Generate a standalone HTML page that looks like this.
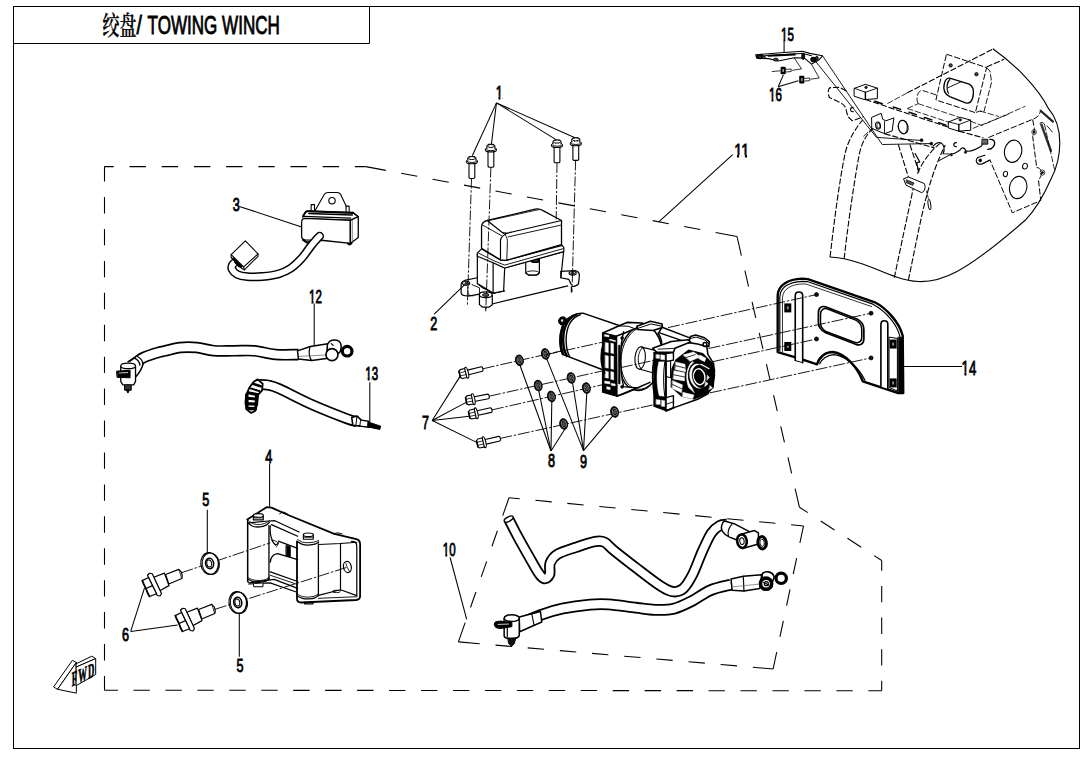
<!DOCTYPE html>
<html lang="zh"><head><meta charset="utf-8"><title>绞盘/ TOWING WINCH</title>
<style>
html,body{margin:0;padding:0;background:#fff;}
body{width:1090px;height:760px;overflow:hidden;}
svg{display:block;}
.lb{font-family:"Liberation Sans",sans-serif;fill:#000;font-weight:normal;stroke:#000;stroke-width:0.75px;vector-effect:non-scaling-stroke;paint-order:stroke;}
.tt{font-family:"Liberation Sans",sans-serif;fill:#000;stroke:#000;stroke-width:0.9px;}
.cj{font-family:"Liberation Serif","Noto Serif CJK SC","Noto Sans CJK SC",serif;fill:#000;font-weight:600;stroke:#000;stroke-width:0.25px;}
.fw{font-family:"Liberation Serif",serif;font-weight:bold;fill:#000;}
</style></head><body>
<svg width="1090" height="760" viewBox="0 0 1090 760">
<rect x="0" y="0" width="1090" height="760" fill="#fff"/>
<rect x="13.5" y="6.5" width="1066" height="742" fill="none" stroke="#000" stroke-width="1"/>
<path d="M13.5 43.5 H369.5 V6.5" fill="none" stroke="#000" stroke-width="1"/>
<text x="102.6" y="34.6" font-size="25.6" textLength="33.8" lengthAdjust="spacingAndGlyphs" class="cj">绞盘</text>
<text x="136.5" y="33.9" font-size="26.2" textLength="5.4" lengthAdjust="spacingAndGlyphs" class="tt">/</text>
<text x="147.6" y="33.9" font-size="26.2" textLength="132.2" lengthAdjust="spacingAndGlyphs" class="tt">TOWING WINCH</text>
<line x1="104.5" y1="166.6" x2="365.8" y2="166.6" stroke="#000" stroke-width="1.08" stroke-dasharray="9.2 15.8 16.4 15.8 16.4 15.8 16.4 15.8 16.4 15.8 16.4 15.8 16.4 15.8 16.4 15.8 11.9 1000"/>
<line x1="365.8" y1="166.6" x2="737" y2="236.5" stroke="#000" stroke-width="1.08" stroke-dasharray="20.35 15.6 16.4 15.6 16.4 15.6 16.4 15.6 16.4 15.6 16.4 15.6 16.4 15.6 16.4 15.6 16.4 15.6 16.4 15.6 16.4 15.6 22.8 1000"/>
<line x1="737" y1="236.5" x2="799.4" y2="507.2" stroke="#000" stroke-width="1.08" stroke-dasharray="19.6 15.54 16.4 15.54 16.4 15.54 16.4 15.54 16.4 15.54 16.4 15.54 16.4 15.54 16.4 15.54 20.1 1000"/>
<line x1="799.4" y1="507.2" x2="881.7" y2="560.5" stroke="#000" stroke-width="1.08" stroke-dasharray="10 15.42 16.4 15.42 16.4 15.42 10 1000"/>
<line x1="881.7" y1="560.5" x2="881.7" y2="690.8" stroke="#000" stroke-width="1.08" stroke-dasharray="10.2 15.22 16.4 15.22 16.4 15.22 16.4 15.22 11 1000"/>
<line x1="104.5" y1="690.2" x2="881.7" y2="690.8" stroke="#000" stroke-width="1.08" stroke-dasharray="13.4 15.55 16.4 15.55 16.4 15.55 16.4 15.55 16.4 15.55 16.4 15.55 16.4 15.55 16.4 15.55 16.4 15.55 16.4 15.55 16.4 15.55 16.4 15.55 16.4 15.55 16.4 15.55 16.4 15.55 16.4 15.55 16.4 15.55 16.4 15.55 16.4 15.55 16.4 15.55 16.4 15.55 16.4 15.55 16.4 15.55 16.4 15.55 14.3 1000"/>
<line x1="104.5" y1="166.6" x2="104.5" y2="690.2" stroke="#000" stroke-width="1.08" stroke-dasharray="14.9 15.53 16.4 15.53 16.4 15.53 16.4 15.53 16.4 15.53 16.4 15.53 16.4 15.53 16.4 15.53 16.4 15.53 16.4 15.53 16.4 15.53 16.4 15.53 16.4 15.53 16.4 15.53 16.4 15.53 16.4 15.53 15.3 1000"/>
<line x1="509" y1="497.8" x2="803.5" y2="526" stroke="#000" stroke-width="1.08" stroke-dasharray="10.8 15.71 16.4 15.71 16.4 15.71 16.4 15.71 16.4 15.71 16.4 15.71 16.4 15.71 16.4 15.71 16.4 15.71 13.5 1000"/>
<line x1="803.5" y1="526" x2="773.1" y2="669" stroke="#000" stroke-width="1.08" stroke-dasharray="17.3 15.6 16.4 15.6 16.4 15.6 16.4 15.6 18.3 1000"/>
<line x1="458.4" y1="641.9" x2="773.1" y2="669" stroke="#000" stroke-width="1.08" stroke-dasharray="21.4 15.88 16.4 15.88 16.4 15.88 16.4 15.88 16.4 15.88 16.4 15.88 16.4 15.88 16.4 15.88 16.4 15.88 21.3 1000"/>
<line x1="509" y1="497.8" x2="458.4" y2="641.9" stroke="#000" stroke-width="1.08" stroke-dasharray="18.9 16.06 16.4 16.06 16.4 16.06 16.4 16.06 21.4 1000"/>
<path d="M315.11 210.53 L324.36 194.24 Q325.53 192.48 328.03 192.48 L337.13 192.48 Q339.48 192.48 340.65 194.39 L348.28 210.53" fill="#fff" stroke="#000" stroke-width="1.1" stroke-linejoin="round" stroke-linecap="round" />
<circle cx="331.99" cy="200.7" r="3.2" fill="none" stroke="#000" stroke-width="1.1"/>
<path d="M311.15 211.12 L311.15 204.66 L314.52 204.66 L314.52 211.12" fill="#fff" stroke="#000" stroke-width="1.1" stroke-linejoin="round" stroke-linecap="round" />
<path d="M346.08 211.56 L346.08 206.13 L349.17 206.13 L349.17 211.56" fill="#fff" stroke="#000" stroke-width="1.1" stroke-linejoin="round" stroke-linecap="round" />
<path d="M302.78 216.7 L307.18 210.83 L352.98 212.59 L358.12 216.7 L350.78 219.93 L303.81 218.46 Z" fill="#fff" stroke="#000" stroke-width="1" stroke-linejoin="round" stroke-linecap="round" />
<path d="M307.18 211.27 L352.98 212.88" fill="none" stroke="#000" stroke-width="2.2" stroke-linejoin="round" stroke-linecap="round" />
<path d="M308.94 213.47 L352.25 214.94" fill="none" stroke="#000" stroke-width="1.6" stroke-linejoin="round" stroke-linecap="round" />
<path d="M303.81 216.4 L350.78 218.17" fill="none" stroke="#000" stroke-width="1.2" stroke-linejoin="round" stroke-linecap="round" />
<path d="M306.01 211.56 L303.07 215.96" fill="none" stroke="#000" stroke-width="2" stroke-linejoin="round" stroke-linecap="round" />
<path d="M352.98 212.59 L358.12 216.7" fill="none" stroke="#000" stroke-width="1.6" stroke-linejoin="round" stroke-linecap="round" />
<path d="M301.61 222.57 Q301.61 218.46 305.28 218.46 L350.34 220.37 L350.34 243.41 L323.62 240.48 L304.83 239.89 Q301.61 239.45 301.61 235.78 Z" fill="#fff" stroke="#000" stroke-width="1.3" stroke-linejoin="round" stroke-linecap="round" />
<path d="M350.34 220.37 L358.27 216.7 L358.27 237.54 L350.34 243.41 Z" fill="#fff" stroke="#000" stroke-width="1.3" stroke-linejoin="round" stroke-linecap="round" />
<path d="M352.25 219.93 L352.25 241.65" fill="none" stroke="#444" stroke-width="0.7" stroke-linejoin="round" stroke-linecap="round" />
<path d="M303.07 239.89 L306.74 242.39 L311.88 241.65" fill="none" stroke="#000" stroke-width="2" stroke-linejoin="round" stroke-linecap="round" />
<path d="M347.84 243.41 L349.31 244.59 L351.51 243.41" fill="none" stroke="#000" stroke-width="2" stroke-linejoin="round" stroke-linecap="round" />
<path d="M319.6 236.2 C319 236.83 317.47 238.33 316 240 C314.53 241.67 313.18 243.15 310.8 246.2 C308.42 249.25 305.07 254.6 301.7 258.3 C298.33 262 294.47 265.8 290.6 268.4 C286.73 271 283.2 272.55 278.5 273.9 C273.8 275.25 267.62 276.03 262.4 276.5 C257.18 276.97 251.42 277.05 247.2 276.7 C242.98 276.35 239.62 275.62 237.1 274.4 C234.58 273.18 232.88 270.98 232.1 269.4 C231.32 267.82 231.75 266.22 232.4 264.9 C233.05 263.58 235.4 262.07 236 261.5" fill="none" stroke="#000" stroke-width="8.8" stroke-linecap="round" stroke-linejoin="round"/>
<path d="M319.6 236.2 C319 236.83 317.47 238.33 316 240 C314.53 241.67 313.18 243.15 310.8 246.2 C308.42 249.25 305.07 254.6 301.7 258.3 C298.33 262 294.47 265.8 290.6 268.4 C286.73 271 283.2 272.55 278.5 273.9 C273.8 275.25 267.62 276.03 262.4 276.5 C257.18 276.97 251.42 277.05 247.2 276.7 C242.98 276.35 239.62 275.62 237.1 274.4 C234.58 273.18 232.88 270.98 232.1 269.4 C231.32 267.82 231.75 266.22 232.4 264.9 C233.05 263.58 235.4 262.07 236 261.5" fill="none" stroke="#fff" stroke-width="5.8" stroke-linecap="round" stroke-linejoin="round"/>
<path d="M245.39 240.92 L258.01 253.83 L258.01 256.33 L244.36 269.83 L242.16 268.81 L231.15 257.5 L231.15 254.57 Z" fill="#fff" stroke="#000" stroke-width="1.1" stroke-linejoin="round" stroke-linecap="round" />
<path d="M231.15 254.57 L243.62 266.9 L258.01 253.83" fill="none" stroke="#000" stroke-width="1.1" stroke-linejoin="round" stroke-linecap="round" />
<path d="M243.62 266.9 L244.36 269.83" fill="none" stroke="#000" stroke-width="1.1" stroke-linejoin="round" stroke-linecap="round" />
<path d="M233.35 258.53 L241.42 266.61" fill="none" stroke="#000" stroke-width="2.2" stroke-linejoin="round" stroke-linecap="round" />
<path d="M234.82 262.2 L239.22 266.61" fill="none" stroke="#000" stroke-width="1.5" stroke-linejoin="round" stroke-linecap="round" />
<path d="M133 365 C133.9 364.28 136.52 362 138.4 360.7 C140.28 359.4 141.03 358.57 144.3 357.2 C147.57 355.83 154.55 353.55 158 352.5 C161.45 351.45 161.27 351.73 165 350.9 C168.73 350.07 175.15 348.07 180.4 347.5 C185.65 346.93 190.93 346.97 196.5 347.5 C202.07 348.03 207.55 350.15 213.8 350.7 C220.05 351.25 227.25 350.78 234 350.8 C240.75 350.82 247.38 350.18 254.3 350.8 C261.22 351.42 268.13 353.87 275.5 354.5 C282.87 355.13 294.67 354.58 298.5 354.6" fill="none" stroke="#000" stroke-width="11.6" stroke-linecap="butt" stroke-linejoin="round"/>
<path d="M133 365 C133.9 364.28 136.52 362 138.4 360.7 C140.28 359.4 141.03 358.57 144.3 357.2 C147.57 355.83 154.55 353.55 158 352.5 C161.45 351.45 161.27 351.73 165 350.9 C168.73 350.07 175.15 348.07 180.4 347.5 C185.65 346.93 190.93 346.97 196.5 347.5 C202.07 348.03 207.55 350.15 213.8 350.7 C220.05 351.25 227.25 350.78 234 350.8 C240.75 350.82 247.38 350.18 254.3 350.8 C261.22 351.42 268.13 353.87 275.5 354.5 C282.87 355.13 294.67 354.58 298.5 354.6" fill="none" stroke="#fff" stroke-width="8.2" stroke-linecap="butt" stroke-linejoin="round"/>
<path d="M297.53 350.91 L310.26 346.57 L327.92 343.68 L326.47 358.44 L311.71 360.46 L298.39 359.02 Z" fill="#fff" stroke="#000" stroke-width="1.5" stroke-linejoin="round" stroke-linecap="round" />
<path d="M309.97 346.86 C308.52 352.36 309.1 356.7 311.42 360.32" fill="none" stroke="#000" stroke-width="1.2" stroke-linejoin="round" stroke-linecap="round" />
<path d="M298.68 356.41 L326.18 354.96" fill="none" stroke="#555" stroke-width="0.7" stroke-linejoin="round" stroke-linecap="round" />
<path d="M327.34 344.83 C329.8 338.61 339.2 338.61 340.94 344.4 C341.52 348.02 340.94 350.91 339.2 353.08 L327.34 353.08 Z" fill="#fff" stroke="#000" stroke-width="1.5" stroke-linejoin="round" stroke-linecap="round" />
<circle cx="331.97" cy="354.67" r="6" fill="#fff" stroke="#000" stroke-width="1.6"/>
<path d="M331.24 343.68 L333.13 345.41" fill="none" stroke="#000" stroke-width="1.2" stroke-linejoin="round" stroke-linecap="round" />
<circle cx="347.16" cy="351.2" r="4.8" fill="#fff" stroke="#000" stroke-width="3.2"/>
<path d="M130.66 363.23 L138.53 357.41 L143.15 363.91 C141.78 369.22 138.79 373.49 135.62 377.09 L130.66 377.09 Z" fill="#fff" stroke="#fff" stroke-width="0.4" stroke-linejoin="round" stroke-linecap="round" />
<path d="M143.15 363.91 C141.78 369.22 138.79 373.49 135.62 377.09" fill="none" stroke="#000" stroke-width="1.6" stroke-linejoin="round" stroke-linecap="round" />
<path d="M134.6 358.1 C137.93 359.81 139.64 362.37 139.9 365.11" fill="none" stroke="#000" stroke-width="1.3" stroke-linejoin="round" stroke-linecap="round" />
<path d="M137.51 356.56 C140.93 358.52 142.64 361.09 142.81 363.91" fill="none" stroke="#000" stroke-width="1.3" stroke-linejoin="round" stroke-linecap="round" />
<path d="M128.1 361.69 L134.6 357.93" fill="none" stroke="#000" stroke-width="1.6" stroke-linejoin="round" stroke-linecap="round" />
<path d="M120.74 366.35 L120.74 381.38 L122.89 384.96 L133.63 384.96 L135.53 381.38 L135.53 366.35 Z" fill="#fff" stroke="#000" stroke-width="1.3" stroke-linejoin="round" stroke-linecap="round" />
<ellipse cx="128.14" cy="365.88" rx="7.4" ry="2.8" fill="#fff" stroke="#000" stroke-width="1.3"/>
<path d="M116.93 371.13 L130.05 370.17 L130.05 377.81 L117.4 377.33 Z" fill="#000" stroke="#000" stroke-width="1" stroke-linejoin="round" stroke-linecap="round" />
<path d="M119.31 373.03 L127.66 372.56" fill="none" stroke="#fff" stroke-width="0.8" stroke-linejoin="round" stroke-linecap="round" />
<path d="M124.56 385.44 L124.56 390.21 L131.24 390.21 L131.24 385.44 Z" fill="#333" stroke="#000" stroke-width="1" stroke-linejoin="round" stroke-linecap="round" />
<path d="M126.47 390.21 L127.9 393.07 L129.33 390.21 Z" fill="#000" stroke="#000" stroke-width="1" stroke-linejoin="round" stroke-linecap="round" />
<path d="M258.85 384.39 C260.36 384.5 264.49 384.31 267.93 385.05 C271.37 385.8 272.2 385.6 279.49 388.85 C286.78 392.1 300.54 399.58 311.69 404.54 C322.84 409.49 338.8 415.71 346.37 418.57 C353.94 421.44 355.31 421.19 357.1 421.71" fill="none" stroke="#000" stroke-width="11" stroke-linecap="butt" stroke-linejoin="round"/>
<path d="M258.85 384.39 C260.36 384.5 264.49 384.31 267.93 385.05 C271.37 385.8 272.2 385.6 279.49 388.85 C286.78 392.1 300.54 399.58 311.69 404.54 C322.84 409.49 338.8 415.71 346.37 418.57 C353.94 421.44 355.31 421.19 357.1 421.71" fill="none" stroke="#fff" stroke-width="7.6" stroke-linecap="butt" stroke-linejoin="round"/>
<path d="M257.61 379.36 L262.71 383.76 L262.02 390.64 L258.16 394.49 L257.2 404.4 L254.86 411.28 L251.01 412.93 L247.16 409.91 L245.5 402.34 L246.19 394.77 L249.63 387.2 L253.76 381.7 Z" fill="#fff" stroke="#000" stroke-width="1.8" stroke-linejoin="round" stroke-linecap="round" />
<path d="M253.07 383.76 L260.64 386.24" fill="none" stroke="#000" stroke-width="2.6" stroke-linejoin="round" stroke-linecap="round" />
<path d="M251.01 388.58 L259.27 390.92" fill="none" stroke="#000" stroke-width="2" stroke-linejoin="round" stroke-linecap="round" />
<path d="M248.26 392.71 L257.61 394.77" fill="none" stroke="#000" stroke-width="3.2" stroke-linejoin="round" stroke-linecap="round" />
<path d="M246.61 398.21 L256.79 399.17" fill="none" stroke="#000" stroke-width="3" stroke-linejoin="round" stroke-linecap="round" />
<path d="M246.19 403.71 L256.51 404.13" fill="none" stroke="#000" stroke-width="3.2" stroke-linejoin="round" stroke-linecap="round" />
<path d="M247.98 408.53 L255.14 408.81" fill="none" stroke="#000" stroke-width="3.4" stroke-linejoin="round" stroke-linecap="round" />
<path d="M246.88 394.77 L246.88 408.53" fill="none" stroke="#000" stroke-width="3.4" stroke-linejoin="round" stroke-linecap="round" />
<path d="M256.24 395.46 L255.41 409.91" fill="none" stroke="#000" stroke-width="2.4" stroke-linejoin="round" stroke-linecap="round" />
<path d="M351.74 417.47 L356.97 416.1 L361.1 419.81 L359.99 426.14 L352.84 425.32 Z" fill="#fff" stroke="#000" stroke-width="1.6" stroke-linejoin="round" stroke-linecap="round" />
<path d="M356.97 416.1 L355.87 425.59" fill="none" stroke="#000" stroke-width="1" stroke-linejoin="round" stroke-linecap="round" />
<path d="M361.1 420.09 L368.66 421.19 L368.66 427.25 L360.27 426.14" fill="#fff" stroke="#000" stroke-width="1.4" stroke-linejoin="round" stroke-linecap="round" />
<path d="M368.25 422.02 L380.64 426.14 L379.81 429.45 L367.98 426.97 Z" fill="#000" stroke="#000" stroke-width="1" stroke-linejoin="round" stroke-linecap="round" />
<path d="M247.27 519.61 L266.6 507.18 L271.44 507.6 L289.39 515.47 L334.28 533.84 L356.38 539.09 Q360.11 540.06 360.11 544.2 L360.11 595.99 Q360.11 599.72 355.97 600 L301.13 602.49 Q296.99 602.49 296.99 598.76 L296.99 541.44" fill="#fff" stroke="#000" stroke-width="1.8" stroke-linejoin="round" stroke-linecap="round" />
<path d="M318.4 544.48 L340.5 543.51 L356.8 542.27" fill="none" stroke="#000" stroke-width="1.2" stroke-linejoin="round" stroke-linecap="round" />
<path d="M351.55 541.44 Q356.8 541.44 356.8 546.27 L356.8 595.3" fill="none" stroke="#000" stroke-width="1.2" stroke-linejoin="round" stroke-linecap="round" />
<path d="M340.5 543.51 L340.5 589.78" fill="none" stroke="#000" stroke-width="1.2" stroke-linejoin="round" stroke-linecap="round" />
<path d="M318.4 595.3 L340.5 589.78 L356.8 595.58" fill="none" stroke="#000" stroke-width="1.2" stroke-linejoin="round" stroke-linecap="round" />
<path d="M318.4 598.34 L357.07 596.69" fill="none" stroke="#000" stroke-width="0.9" stroke-linejoin="round" stroke-linecap="round" />
<ellipse cx="347.4" cy="566.99" rx="3.9" ry="5.6" fill="#fff" stroke="#000" stroke-width="1.2" transform="rotate(-12 347.4 566.99)"/>
<path d="M345.75 562.85 C346.02 563.65 346.71 566.18 347.4 567.68 C348.09 569.18 349.48 571.13 349.89 571.82" fill="none" stroke="#000" stroke-width="0.8" stroke-linejoin="round" stroke-linecap="round" />
<ellipse cx="336.35" cy="591.44" rx="4" ry="1.2" fill="none" stroke="#000" stroke-width="0.9"/>
<path d="M279.72 513.81 C280.3 513.54 281.91 512.15 283.18 512.15 C284.44 512.15 286.63 513.54 287.32 513.81" fill="none" stroke="#000" stroke-width="1" stroke-linejoin="round" stroke-linecap="round" />
<path d="M333.59 533.84 C334.28 533.68 336.31 532.85 337.73 532.87 C339.16 532.9 341.42 533.79 342.15 533.98" fill="none" stroke="#000" stroke-width="1" stroke-linejoin="round" stroke-linecap="round" />
<path d="M248.65 522.79 L268.67 520.99 L274.89 520.72 L299.06 532.04" fill="none" stroke="#000" stroke-width="1.2" stroke-linejoin="round" stroke-linecap="round" />
<path d="M271.44 524.59 L297.68 536.19" fill="none" stroke="#000" stroke-width="1.2" stroke-linejoin="round" stroke-linecap="round" />
<path d="M270.33 525.97 Q269.36 534.53 272.82 541.44 Q275.58 546.96 278.34 542.82" fill="none" stroke="#000" stroke-width="1.2" stroke-linejoin="round" stroke-linecap="round" />
<path d="M278.34 541.16 L297.68 548.34" fill="none" stroke="#000" stroke-width="1.2" stroke-linejoin="round" stroke-linecap="round" />
<path d="M271.44 540.06 L275.58 545.58" fill="none" stroke="#000" stroke-width="0.9" stroke-linejoin="round" stroke-linecap="round" />
<path d="M272.82 540.06 C273.39 540.29 275.4 540.79 276.27 541.44 C277.15 542.08 278.07 543 278.07 543.92 C278.07 544.84 276.57 546.45 276.27 546.96" fill="none" stroke="#000" stroke-width="0.9" stroke-linejoin="round" stroke-linecap="round" />
<path d="M286.35 545.58 L290.22 546.69 L290.22 556.91 L286.35 555.8 Z" fill="#000" stroke="#000" stroke-width="1" stroke-linejoin="round" stroke-linecap="round" />
<path d="M270.33 562.15 Q270.75 554.56 277.65 553.59 L297.68 559.67" fill="none" stroke="#000" stroke-width="1.2" stroke-linejoin="round" stroke-linecap="round" />
<path d="M270.33 571.82 L297.68 581.49" fill="none" stroke="#000" stroke-width="1.2" stroke-linejoin="round" stroke-linecap="round" />
<path d="M270.33 575.28 L297.68 584.53" fill="none" stroke="#000" stroke-width="0.9" stroke-linejoin="round" stroke-linecap="round" />
<path d="M247.96 581.77 L249.34 582.87 L268.67 580.11 L274.2 579.42 L297.68 588.4" fill="none" stroke="#000" stroke-width="1.2" stroke-linejoin="round" stroke-linecap="round" />
<path d="M248.65 583.98 L270.06 582.87 L296.99 592.27" fill="none" stroke="#000" stroke-width="1.2" stroke-linejoin="round" stroke-linecap="round" />
<path d="M247.68 519.61 L247.68 581.49" fill="none" stroke="#000" stroke-width="1.5" stroke-linejoin="round" stroke-linecap="round" />
<path d="M268.95 525.55 L268.95 579.01" fill="none" stroke="#000" stroke-width="1.3" stroke-linejoin="round" stroke-linecap="round" />
<path d="M247.68 522.79 C248.53 523.37 250.79 525.55 252.79 526.24 C254.79 526.93 257.46 527.12 259.7 526.93 C261.93 526.75 264.58 525.9 266.19 525.14 C267.8 524.38 268.84 522.84 269.36 522.38" fill="none" stroke="#000" stroke-width="1.3" stroke-linejoin="round" stroke-linecap="round" />
<path d="M248.65 520.72 C249.45 521.22 251.64 523.11 253.48 523.76 C255.32 524.4 257.58 524.75 259.7 524.59 C261.81 524.42 264.58 523.43 266.19 522.79 C267.8 522.15 268.84 521.06 269.36 520.72" fill="none" stroke="#000" stroke-width="0.9" stroke-linejoin="round" stroke-linecap="round" />
<path d="M247.68 579.01 C248.53 579.42 250.79 580.94 252.79 581.49 C254.79 582.04 257.51 582.37 259.7 582.32 C261.88 582.27 264.3 581.86 265.91 581.22 C267.52 580.57 268.79 578.91 269.36 578.45" fill="none" stroke="#000" stroke-width="1.3" stroke-linejoin="round" stroke-linecap="round" />
<path d="M247.68 577.35 C248.53 577.76 250.79 579.3 252.79 579.83 C254.79 580.36 257.51 580.59 259.7 580.52 C261.88 580.46 264.3 580.04 265.91 579.42 C267.52 578.8 268.79 577.23 269.36 576.8" fill="none" stroke="#000" stroke-width="0.9" stroke-linejoin="round" stroke-linecap="round" />
<path d="M318.4 543.92 L318.4 595.58" fill="none" stroke="#000" stroke-width="1.3" stroke-linejoin="round" stroke-linecap="round" />
<path d="M297.27 541.44 C298.14 541.94 300.6 543.88 302.51 544.48 C304.42 545.07 306.66 545.07 308.73 545.03 C310.8 544.98 313.29 544.68 314.94 544.2 C316.6 543.72 318.05 542.47 318.67 542.13" fill="none" stroke="#000" stroke-width="1.3" stroke-linejoin="round" stroke-linecap="round" />
<path d="M297.68 539.36 C298.49 539.83 300.67 541.57 302.51 542.13 C304.36 542.68 306.66 542.73 308.73 542.68 C310.8 542.63 313.29 542.24 314.94 541.85 C316.6 541.46 318.05 540.58 318.67 540.33" fill="none" stroke="#000" stroke-width="0.9" stroke-linejoin="round" stroke-linecap="round" />
<path d="M297.27 595.99 C298.14 596.39 300.6 597.86 302.51 598.34 C304.42 598.83 306.66 598.99 308.73 598.9 C310.8 598.8 313.29 598.39 314.94 597.79 C316.6 597.19 318.05 595.72 318.67 595.3" fill="none" stroke="#000" stroke-width="1.3" stroke-linejoin="round" stroke-linecap="round" />
<path d="M297.27 594.2 C298.14 594.59 300.6 596.06 302.51 596.55 C304.42 597.03 306.66 597.19 308.73 597.1 C310.8 597.01 313.29 596.57 314.94 595.99 C316.6 595.42 318.05 594.04 318.67 593.65" fill="none" stroke="#000" stroke-width="0.9" stroke-linejoin="round" stroke-linecap="round" />
<path d="M253.34 515.47 L253.34 519.89 L263.29 519.89 L263.29 515.47 Z" fill="#fff" stroke="#000" stroke-width="1.1" stroke-linejoin="round" stroke-linecap="round" />
<ellipse cx="258.31" cy="515.47" rx="5" ry="1.8" fill="#fff" stroke="#000" stroke-width="1.1"/>
<path d="M253.34 517.96 L263.29 517.96" fill="none" stroke="#000" stroke-width="0.8" stroke-linejoin="round" stroke-linecap="round" />
<path d="M303.34 534.81 L303.34 539.23 L313.29 539.23 L313.29 534.81 Z" fill="#fff" stroke="#000" stroke-width="1.1" stroke-linejoin="round" stroke-linecap="round" />
<ellipse cx="308.31" cy="534.81" rx="5" ry="1.8" fill="#fff" stroke="#000" stroke-width="1.1"/>
<path d="M303.34 537.29 L313.29 537.29" fill="none" stroke="#000" stroke-width="0.8" stroke-linejoin="round" stroke-linecap="round" />
<path d="M253.48 583.98 L253.76 586.74 L262.87 586.74 L263.15 583.43" fill="#fff" stroke="#000" stroke-width="1" stroke-linejoin="round" stroke-linecap="round" />
<path d="M304.59 602.49 L304.59 603.87 L312.87 603.87 L312.87 602.49" fill="none" stroke="#000" stroke-width="1.4" stroke-linejoin="round" stroke-linecap="round" />
<line x1="181.5" y1="572.75" x2="270.3" y2="542.8" stroke="#000" stroke-width="0.9" stroke-dasharray="12 1.8 2.4 1.8"/>
<line x1="215" y1="609.3" x2="346.7" y2="567.4" stroke="#000" stroke-width="0.9" stroke-dasharray="12 1.8 2.4 1.8"/>
<path d="M165.62 574.5 L178.75 569.38 L181.25 571.88 L182.25 575.62 L181.88 578.5 L168.75 584 Z" fill="#fff" stroke="#000" stroke-width="1.2" stroke-linejoin="round" stroke-linecap="round" />
<path d="M178.75 569.38 C179 570.1 179.79 572.23 180.25 573.75 C180.71 575.27 181.29 577.71 181.5 578.5" fill="none" stroke="#000" stroke-width="0.8" stroke-linejoin="round" stroke-linecap="round" />
<path d="M153.75 577.25 L164.38 573.12 L169 585.62 L159.75 590.75 Z" fill="#fff" stroke="#000" stroke-width="1.2" stroke-linejoin="round" stroke-linecap="round" />
<path d="M147.5 575.25 L149.5 573.25 L152.25 573.75 L161.5 593.5 L160 596 L157.25 595.5 Z" fill="#fff" stroke="#000" stroke-width="1.2" stroke-linejoin="round" stroke-linecap="round" />
<path d="M142.25 580.62 L148.5 577.5 L156.5 593.75 L149.5 596.5 Z" fill="#fff" stroke="#000" stroke-width="1.2" stroke-linejoin="round" stroke-linecap="round" />
<path d="M146 588.5 L152.5 585.62" fill="none" stroke="#000" stroke-width="1.2" stroke-linejoin="round" stroke-linecap="round" />
<path d="M142.25 580.62 L143.75 584.38 L146 588.5 L147.5 593.12 L149.5 596.5" fill="none" stroke="#000" stroke-width="1.6" stroke-linejoin="round" stroke-linecap="round" />
<path d="M198.62 609.5 L211.75 604.38 L214.25 606.88 L215.25 610.62 L214.88 613.5 L201.75 619 Z" fill="#fff" stroke="#000" stroke-width="1.2" stroke-linejoin="round" stroke-linecap="round" />
<path d="M211.75 604.38 C212 605.1 212.79 607.23 213.25 608.75 C213.71 610.27 214.29 612.71 214.5 613.5" fill="none" stroke="#000" stroke-width="0.8" stroke-linejoin="round" stroke-linecap="round" />
<path d="M186.75 612.25 L197.38 608.12 L202 620.62 L192.75 625.75 Z" fill="#fff" stroke="#000" stroke-width="1.2" stroke-linejoin="round" stroke-linecap="round" />
<path d="M180.5 610.25 L182.5 608.25 L185.25 608.75 L194.5 628.5 L193 631 L190.25 630.5 Z" fill="#fff" stroke="#000" stroke-width="1.2" stroke-linejoin="round" stroke-linecap="round" />
<path d="M175.25 615.62 L181.5 612.5 L189.5 628.75 L182.5 631.5 Z" fill="#fff" stroke="#000" stroke-width="1.2" stroke-linejoin="round" stroke-linecap="round" />
<path d="M179 623.5 L185.5 620.62" fill="none" stroke="#000" stroke-width="1.2" stroke-linejoin="round" stroke-linecap="round" />
<path d="M175.25 615.62 L176.75 619.38 L179 623.5 L180.5 628.12 L182.5 631.5" fill="none" stroke="#000" stroke-width="1.6" stroke-linejoin="round" stroke-linecap="round" />
<ellipse cx="209.62" cy="563.5" rx="8.8" ry="10.9" fill="#fff" stroke="#000" stroke-width="1.3" transform="rotate(-8 209.62 563.5)"/>
<ellipse cx="210.82" cy="563.8" rx="8.6" ry="10.8" fill="none" stroke="#000" stroke-width="1" transform="rotate(-8 210.82 563.8)"/>
<ellipse cx="209.62" cy="563.5" rx="4" ry="5.2" fill="#fff" stroke="#000" stroke-width="1.6" transform="rotate(-8 209.62 563.5)"/>
<ellipse cx="209.22" cy="563.5" rx="2.4" ry="3.6" fill="none" stroke="#000" stroke-width="1" transform="rotate(-8 209.22 563.5)"/>
<ellipse cx="237.75" cy="602.5" rx="8.8" ry="10.9" fill="#fff" stroke="#000" stroke-width="1.3" transform="rotate(-8 237.75 602.5)"/>
<ellipse cx="238.95" cy="602.8" rx="8.6" ry="10.8" fill="none" stroke="#000" stroke-width="1" transform="rotate(-8 238.95 602.8)"/>
<ellipse cx="237.75" cy="602.5" rx="4" ry="5.2" fill="#fff" stroke="#000" stroke-width="1.6" transform="rotate(-8 237.75 602.5)"/>
<ellipse cx="237.35" cy="602.5" rx="2.4" ry="3.6" fill="none" stroke="#000" stroke-width="1" transform="rotate(-8 237.35 602.5)"/>
<path d="M53.82 686.6 L72.39 660.38 L76.33 662.51 L57.77 688.97 Z" fill="#fff" stroke="#000" stroke-width="1" stroke-linejoin="round" stroke-linecap="round" />
<path d="M57.77 688.97 L76.33 662.51 L76.33 692.76 Z" fill="#fff" stroke="#000" stroke-width="1" stroke-linejoin="round" stroke-linecap="round" />
<path d="M76.33 663.7 L91.74 656.19 L95.69 658.56 L76.33 667.01 Z" fill="#fff" stroke="#000" stroke-width="1" stroke-linejoin="round" stroke-linecap="round" />
<path d="M76.33 667.01 L95.69 658.56 L95.69 674.52 L76.33 685.58 Z" fill="#fff" stroke="#000" stroke-width="1" stroke-linejoin="round" stroke-linecap="round" />
<text transform="matrix(0.43 -0.2 0 1 71.83 686.45)" font-size="20.5" class="fw" letter-spacing="2.2" stroke="#000" stroke-width="0.7">FWD</text>
<path d="M469 162.8 L469 177.5 L469.8 178.5 L474 178.5 L474.8 177.5 L474.8 162.8" fill="#fff" stroke="#000" stroke-width="1.1" stroke-linejoin="round" stroke-linecap="round" />
<ellipse cx="471.9" cy="161.7" rx="5.6" ry="2" fill="#fff" stroke="#000" stroke-width="1.1"/>
<ellipse cx="471.9" cy="160.7" rx="5.3" ry="1.8" fill="#fff" stroke="#000" stroke-width="0.9"/>
<path d="M467.9 160.3 L467.9 157.9 L469.5 156.5 L474.3 156.5 L475.9 157.9 L475.9 160.3" fill="#fff" stroke="#000" stroke-width="1.1" stroke-linejoin="round" stroke-linecap="round" />
<ellipse cx="471.9" cy="158.1" rx="3.4" ry="1.5" fill="#fff" stroke="#000" stroke-width="0.9"/>
<line x1="470.5" y1="159.5" x2="470.5" y2="159.9" stroke="#000" stroke-width="0.8" />
<line x1="473.5" y1="159.5" x2="473.5" y2="159.9" stroke="#000" stroke-width="0.8" />
<path d="M488 151 L488 166.2 L488.8 167.2 L493 167.2 L493.8 166.2 L493.8 151" fill="#fff" stroke="#000" stroke-width="1.1" stroke-linejoin="round" stroke-linecap="round" />
<ellipse cx="490.9" cy="149.9" rx="5.6" ry="2" fill="#fff" stroke="#000" stroke-width="1.1"/>
<ellipse cx="490.9" cy="148.9" rx="5.3" ry="1.8" fill="#fff" stroke="#000" stroke-width="0.9"/>
<path d="M486.9 148.5 L486.9 145.8 L488.5 144.4 L493.3 144.4 L494.9 145.8 L494.9 148.5" fill="#fff" stroke="#000" stroke-width="1.1" stroke-linejoin="round" stroke-linecap="round" />
<ellipse cx="490.9" cy="146" rx="3.4" ry="1.5" fill="#fff" stroke="#000" stroke-width="0.9"/>
<line x1="489.5" y1="147.4" x2="489.5" y2="148.1" stroke="#000" stroke-width="0.8" />
<line x1="492.5" y1="147.4" x2="492.5" y2="148.1" stroke="#000" stroke-width="0.8" />
<path d="M554.1 146.5 L554.1 161.8 L554.9 162.8 L559.1 162.8 L559.9 161.8 L559.9 146.5" fill="#fff" stroke="#000" stroke-width="1.1" stroke-linejoin="round" stroke-linecap="round" />
<ellipse cx="557" cy="145.4" rx="5.6" ry="2" fill="#fff" stroke="#000" stroke-width="1.1"/>
<ellipse cx="557" cy="144.4" rx="5.3" ry="1.8" fill="#fff" stroke="#000" stroke-width="0.9"/>
<path d="M553 144 L553 141.4 L554.6 140 L559.4 140 L561 141.4 L561 144" fill="#fff" stroke="#000" stroke-width="1.1" stroke-linejoin="round" stroke-linecap="round" />
<ellipse cx="557" cy="141.6" rx="3.4" ry="1.5" fill="#fff" stroke="#000" stroke-width="0.9"/>
<line x1="555.6" y1="143" x2="555.6" y2="143.6" stroke="#000" stroke-width="0.8" />
<line x1="558.6" y1="143" x2="558.6" y2="143.6" stroke="#000" stroke-width="0.8" />
<path d="M572.9 144.8 L572.9 159.4 L573.7 160.4 L577.9 160.4 L578.7 159.4 L578.7 144.8" fill="#fff" stroke="#000" stroke-width="1.1" stroke-linejoin="round" stroke-linecap="round" />
<ellipse cx="575.8" cy="143.7" rx="5.6" ry="2" fill="#fff" stroke="#000" stroke-width="1.1"/>
<ellipse cx="575.8" cy="142.7" rx="5.3" ry="1.8" fill="#fff" stroke="#000" stroke-width="0.9"/>
<path d="M571.8 142.3 L571.8 139.2 L573.4 137.8 L578.2 137.8 L579.8 139.2 L579.8 142.3" fill="#fff" stroke="#000" stroke-width="1.1" stroke-linejoin="round" stroke-linecap="round" />
<ellipse cx="575.8" cy="139.4" rx="3.4" ry="1.5" fill="#fff" stroke="#000" stroke-width="0.9"/>
<line x1="574.4" y1="140.8" x2="574.4" y2="141.9" stroke="#000" stroke-width="0.8" />
<line x1="577.4" y1="140.8" x2="577.4" y2="141.9" stroke="#000" stroke-width="0.8" />
<path d="M477.34 277.72 L464.71 280.46 Q461.14 281.51 461.14 284.66 L461.14 293.08 Q461.56 296.24 469.97 295.82 L479.44 294.13" fill="#fff" stroke="#000" stroke-width="1.2" stroke-linejoin="round" stroke-linecap="round" />
<ellipse cx="466.19" cy="283.19" rx="3.6" ry="2" fill="#fff" stroke="#000" stroke-width="1.1"/>
<ellipse cx="466.61" cy="283.4" rx="1.8" ry="1" fill="#555" stroke="#000" stroke-width="0.9"/>
<path d="M467.87 286.77 C467.94 288 467.41 292.62 468.29 294.13 C469.17 295.64 472.32 295.53 473.13 295.82" fill="none" stroke="#000" stroke-width="0.9" stroke-linejoin="round" stroke-linecap="round" />
<path d="M477.34 283.61 L482.6 287.82 L493.12 293.08 L503.64 290.98" fill="none" stroke="#000" stroke-width="1.2" stroke-linejoin="round" stroke-linecap="round" />
<path d="M492.07 304.02 L570.96 285.09" fill="none" stroke="#000" stroke-width="1.2" stroke-linejoin="round" stroke-linecap="round" />
<path d="M493.12 293.08 L504.69 290.98" fill="none" stroke="#000" stroke-width="1.2" stroke-linejoin="round" stroke-linecap="round" />
<path d="M479.44 295.18 L479.44 304.65 L482.6 307.18 L488.91 307.18 L492.28 304.65 L492.28 295.18" fill="#fff" stroke="#000" stroke-width="1.2" stroke-linejoin="round" stroke-linecap="round" />
<ellipse cx="485.75" cy="294.76" rx="6.4" ry="2.8" fill="#fff" stroke="#000" stroke-width="1.2"/>
<ellipse cx="485.75" cy="294.97" rx="3.2" ry="1.4" fill="#666" stroke="#000" stroke-width="0.9"/>
<line x1="485.75" y1="307.18" x2="485.75" y2="311.38" stroke="#000" stroke-width="0.9" />
<path d="M472.08 284.66 L479.44 287.82 L479.44 296.24" fill="none" stroke="#000" stroke-width="0.9" stroke-linejoin="round" stroke-linecap="round" />
<path d="M560.86 271.41 L575.17 270.57 Q579.38 271.41 579.38 275.2 L578.54 283.61 Q577.28 286.14 571.38 286.77 L571.38 292.03" fill="#fff" stroke="#000" stroke-width="1.2" stroke-linejoin="round" stroke-linecap="round" />
<path d="M560.86 271.41 L560.86 277.72 L568.86 279.4 L571.38 284.66" fill="none" stroke="#000" stroke-width="1.2" stroke-linejoin="round" stroke-linecap="round" />
<ellipse cx="572.65" cy="273.3" rx="3.6" ry="1.8" fill="#fff" stroke="#000" stroke-width="1.1"/>
<ellipse cx="572.65" cy="273.51" rx="1.8" ry="0.9" fill="#666" stroke="#000" stroke-width="0.9"/>
<path d="M477.34 254.16 L477.34 283.61 L493.12 293.08 L503.64 290.98 L504.69 267.83 L493.12 262.57 Z" fill="#fff" stroke="#000" stroke-width="1.2" stroke-linejoin="round" stroke-linecap="round" />
<path d="M493.12 262.99 L493.12 293.08" fill="none" stroke="#000" stroke-width="1.2" stroke-linejoin="round" stroke-linecap="round" />
<path d="M504.69 267.83 L563.6 251.63 L560.86 277.72" fill="none" stroke="#000" stroke-width="1.2" stroke-linejoin="round" stroke-linecap="round" />
<path d="M525.73 262.57 L525.73 273.09 L528.88 275.2 L536.25 275.2 L539.4 272.67 L539.4 259.42" fill="#fff" stroke="#000" stroke-width="1.2" stroke-linejoin="round" stroke-linecap="round" />
<ellipse cx="532.67" cy="273.09" rx="6.8" ry="2.2" fill="none" stroke="#000" stroke-width="0.9"/>
<ellipse cx="535.2" cy="260.47" rx="4" ry="1.8" fill="#333" stroke="#000" stroke-width="1.6"/>
<path d="M477.34 253.11 L481.55 248.9 L500.48 260.05 L506.16 260.47 L562.13 245.32 L563.81 247.42 L563.81 251.63 L504.69 268.04 L493.12 262.78 L477.34 256.26 Z" fill="#fff" stroke="#000" stroke-width="1.2" stroke-linejoin="round" stroke-linecap="round" />
<path d="M478.81 253.32 L494.17 260.89 L504.69 265.1 L562.97 248.69" fill="none" stroke="#000" stroke-width="0.9" stroke-linejoin="round" stroke-linecap="round" />
<path d="M481.55 248.27 L481.55 226.81 Q481.55 222.18 487.23 220.49 L535.2 209.13 Q538.98 208.29 542.56 210.4 L561.5 220.49 L561.5 244.69 L505.74 260.47 L500.48 259.84 Z" fill="#fff" stroke="#000" stroke-width="1.3" stroke-linejoin="round" stroke-linecap="round" />
<path d="M487.23 220.49 L502.59 232.7 Q505.74 233.54 511 232.28 Q501.53 234.17 500.48 240.48 L500.48 259.42" fill="none" stroke="#000" stroke-width="1.2" stroke-linejoin="round" stroke-linecap="round" />
<path d="M511 232.28 L561.5 220.49" fill="none" stroke="#000" stroke-width="1.2" stroke-linejoin="round" stroke-linecap="round" />
<path d="M502.59 232.7 Q507.42 235.64 507.42 241.53 L506.79 260.05" fill="none" stroke="#000" stroke-width="0.9" stroke-linejoin="round" stroke-linecap="round" />
<path d="M482.6 225.12 L501.53 235.64" fill="none" stroke="#000" stroke-width="0.9" stroke-linejoin="round" stroke-linecap="round" />
<path d="M508.27 236.91 L560.86 225.12" fill="none" stroke="#000" stroke-width="0.9" stroke-linejoin="round" stroke-linecap="round" />
<path d="M489.33 220.49 L539.4 209.55" fill="none" stroke="#000" stroke-width="0.8" stroke-linejoin="round" stroke-linecap="round" />
<line x1="471.5" y1="178.5" x2="467.4" y2="304.7" stroke="#000" stroke-width="0.9" stroke-dasharray="10 1.8 2.4 1.8"/>
<line x1="490.9" y1="167.5" x2="485.8" y2="311" stroke="#000" stroke-width="0.9" stroke-dasharray="10 1.8 2.4 1.8"/>
<line x1="557" y1="163" x2="556.2" y2="219.4" stroke="#000" stroke-width="0.9" stroke-dasharray="10 1.8 2.4 1.8"/>
<line x1="575.6" y1="160.5" x2="572" y2="292" stroke="#000" stroke-width="0.9" stroke-dasharray="10 1.8 2.4 1.8"/>
<line x1="482.8" y1="368.8" x2="602" y2="341.6" stroke="#000" stroke-width="0.9" stroke-dasharray="12 1.8 2.4 1.8"/>
<line x1="489.1" y1="396.2" x2="604" y2="370.6" stroke="#000" stroke-width="0.9" stroke-dasharray="12 1.8 2.4 1.8"/>
<line x1="491.9" y1="409.9" x2="604" y2="384.4" stroke="#000" stroke-width="0.9" stroke-dasharray="12 1.8 2.4 1.8"/>
<line x1="500.3" y1="438.4" x2="655" y2="404.5" stroke="#000" stroke-width="0.9" stroke-dasharray="12 1.8 2.4 1.8"/>
<path d="M466.53 370.37 L481.27 366.76 L482.44 367.34 L483.16 370.26 L482.39 371.32 L467.64 374.93 Z" fill="#fff" stroke="#000" stroke-width="1.1" stroke-linejoin="round" stroke-linecap="round" />
<ellipse cx="466.7" cy="372.74" rx="1.6" ry="5.6" fill="#fff" stroke="#000" stroke-width="1.1" transform="rotate(-13.76 466.7 372.74)"/>
<path d="M458.94 371.35 L460.16 369.61 L464.63 368.51 L466.82 377.45 L462.35 378.54 L460.46 377.56 Z" fill="#fff" stroke="#000" stroke-width="1.1" stroke-linejoin="round" stroke-linecap="round" />
<path d="M459.37 373.1 L465.34 371.43" fill="none" stroke="#000" stroke-width="0.8" stroke-linejoin="round" stroke-linecap="round" />
<path d="M460.08 376.01 L466.11 374.54" fill="none" stroke="#000" stroke-width="0.8" stroke-linejoin="round" stroke-linecap="round" />
<path d="M458.94 371.35 L460.46 377.56" fill="none" stroke="#000" stroke-width="1.5" stroke-linejoin="round" stroke-linecap="round" />
<path d="M473.17 396.92 L487.67 394.09 L488.81 394.73 L489.39 397.67 L488.57 398.7 L474.08 401.54 Z" fill="#fff" stroke="#000" stroke-width="1.1" stroke-linejoin="round" stroke-linecap="round" />
<ellipse cx="473.23" cy="399.31" rx="1.6" ry="5.6" fill="#fff" stroke="#000" stroke-width="1.1" transform="rotate(-11.08 473.23 399.31)"/>
<path d="M465.55 397.55 L466.85 395.87 L471.37 394.99 L473.14 404.01 L468.62 404.9 L466.78 403.83 Z" fill="#fff" stroke="#000" stroke-width="1.1" stroke-linejoin="round" stroke-linecap="round" />
<path d="M465.9 399.32 L471.94 397.93" fill="none" stroke="#000" stroke-width="0.8" stroke-linejoin="round" stroke-linecap="round" />
<path d="M466.47 402.26 L472.56 401.07" fill="none" stroke="#000" stroke-width="0.8" stroke-linejoin="round" stroke-linecap="round" />
<path d="M465.55 397.55 L466.78 403.83" fill="none" stroke="#000" stroke-width="1.5" stroke-linejoin="round" stroke-linecap="round" />
<path d="M476.11 410.95 L490.42 407.82 L491.58 408.43 L492.22 411.37 L491.43 412.41 L477.11 415.54 Z" fill="#fff" stroke="#000" stroke-width="1.1" stroke-linejoin="round" stroke-linecap="round" />
<ellipse cx="476.22" cy="413.33" rx="1.6" ry="5.6" fill="#fff" stroke="#000" stroke-width="1.1" transform="rotate(-12.34 476.22 413.33)"/>
<path d="M468.5 411.74 L469.76 410.03 L474.26 409.05 L476.22 418.04 L471.73 419.02 L469.87 418 Z" fill="#fff" stroke="#000" stroke-width="1.1" stroke-linejoin="round" stroke-linecap="round" />
<path d="M468.88 413.5 L474.9 411.98" fill="none" stroke="#000" stroke-width="0.8" stroke-linejoin="round" stroke-linecap="round" />
<path d="M469.53 416.43 L475.58 415.11" fill="none" stroke="#000" stroke-width="0.8" stroke-linejoin="round" stroke-linecap="round" />
<path d="M468.5 411.74 L469.87 418" fill="none" stroke="#000" stroke-width="1.5" stroke-linejoin="round" stroke-linecap="round" />
<path d="M484.06 439.8 L498.79 436.34 L499.96 436.94 L500.64 439.86 L499.86 440.92 L485.13 444.37 Z" fill="#fff" stroke="#000" stroke-width="1.1" stroke-linejoin="round" stroke-linecap="round" />
<ellipse cx="484.2" cy="442.18" rx="1.6" ry="5.6" fill="#fff" stroke="#000" stroke-width="1.1" transform="rotate(-13.21 484.2 442.18)"/>
<path d="M476.46 440.71 L477.7 438.98 L482.18 437.93 L484.28 446.88 L479.8 447.94 L477.93 446.94 Z" fill="#fff" stroke="#000" stroke-width="1.1" stroke-linejoin="round" stroke-linecap="round" />
<path d="M476.88 442.46 L482.87 440.85" fill="none" stroke="#000" stroke-width="0.8" stroke-linejoin="round" stroke-linecap="round" />
<path d="M477.56 445.38 L483.6 443.96" fill="none" stroke="#000" stroke-width="0.8" stroke-linejoin="round" stroke-linecap="round" />
<path d="M476.46 440.71 L477.93 446.94" fill="none" stroke="#000" stroke-width="1.5" stroke-linejoin="round" stroke-linecap="round" />
<ellipse cx="519.4" cy="360.3" rx="3.9" ry="5.3" fill="#000" stroke="#000" stroke-width="1" transform="rotate(-12 519.4 360.3)"/>
<ellipse cx="519.6" cy="360.3" rx="2.5" ry="3.6" fill="#000" stroke="#999" stroke-width="0.8" transform="rotate(-12 519.6 360.3)"/>
<ellipse cx="519.6" cy="360.3" rx="1.1" ry="1.8" fill="#333" stroke="#777" stroke-width="0.7" transform="rotate(-12 519.6 360.3)"/>
<ellipse cx="538.2" cy="385.6" rx="3.9" ry="5.3" fill="#000" stroke="#000" stroke-width="1" transform="rotate(-12 538.2 385.6)"/>
<ellipse cx="538.4" cy="385.6" rx="2.5" ry="3.6" fill="#000" stroke="#999" stroke-width="0.8" transform="rotate(-12 538.4 385.6)"/>
<ellipse cx="538.4" cy="385.6" rx="1.1" ry="1.8" fill="#333" stroke="#777" stroke-width="0.7" transform="rotate(-12 538.4 385.6)"/>
<ellipse cx="551.4" cy="396.5" rx="3.9" ry="5.3" fill="#000" stroke="#000" stroke-width="1" transform="rotate(-12 551.4 396.5)"/>
<ellipse cx="551.6" cy="396.5" rx="2.5" ry="3.6" fill="#000" stroke="#999" stroke-width="0.8" transform="rotate(-12 551.6 396.5)"/>
<ellipse cx="551.6" cy="396.5" rx="1.1" ry="1.8" fill="#333" stroke="#777" stroke-width="0.7" transform="rotate(-12 551.6 396.5)"/>
<ellipse cx="563.7" cy="424" rx="3.9" ry="5.3" fill="#000" stroke="#000" stroke-width="1" transform="rotate(-12 563.7 424)"/>
<ellipse cx="563.9" cy="424" rx="2.5" ry="3.6" fill="#000" stroke="#999" stroke-width="0.8" transform="rotate(-12 563.9 424)"/>
<ellipse cx="563.9" cy="424" rx="1.1" ry="1.8" fill="#333" stroke="#777" stroke-width="0.7" transform="rotate(-12 563.9 424)"/>
<ellipse cx="545.4" cy="354" rx="3.9" ry="5.3" fill="#000" stroke="#000" stroke-width="1" transform="rotate(-12 545.4 354)"/>
<ellipse cx="545.6" cy="354" rx="2.5" ry="3.6" fill="#000" stroke="#999" stroke-width="0.8" transform="rotate(-12 545.6 354)"/>
<ellipse cx="545.6" cy="354" rx="1.1" ry="1.8" fill="#333" stroke="#777" stroke-width="0.7" transform="rotate(-12 545.6 354)"/>
<ellipse cx="571.2" cy="377.9" rx="3.9" ry="5.3" fill="#000" stroke="#000" stroke-width="1" transform="rotate(-12 571.2 377.9)"/>
<ellipse cx="571.4" cy="377.9" rx="2.5" ry="3.6" fill="#000" stroke="#999" stroke-width="0.8" transform="rotate(-12 571.4 377.9)"/>
<ellipse cx="571.4" cy="377.9" rx="1.1" ry="1.8" fill="#333" stroke="#777" stroke-width="0.7" transform="rotate(-12 571.4 377.9)"/>
<ellipse cx="586.4" cy="388.1" rx="3.9" ry="5.3" fill="#000" stroke="#000" stroke-width="1" transform="rotate(-12 586.4 388.1)"/>
<ellipse cx="586.6" cy="388.1" rx="2.5" ry="3.6" fill="#000" stroke="#999" stroke-width="0.8" transform="rotate(-12 586.6 388.1)"/>
<ellipse cx="586.6" cy="388.1" rx="1.1" ry="1.8" fill="#333" stroke="#777" stroke-width="0.7" transform="rotate(-12 586.6 388.1)"/>
<ellipse cx="614.6" cy="412" rx="3.9" ry="5.3" fill="#000" stroke="#000" stroke-width="1" transform="rotate(-12 614.6 412)"/>
<ellipse cx="614.8" cy="412" rx="2.5" ry="3.6" fill="#000" stroke="#999" stroke-width="0.8" transform="rotate(-12 614.8 412)"/>
<ellipse cx="614.8" cy="412" rx="1.1" ry="1.8" fill="#333" stroke="#777" stroke-width="0.7" transform="rotate(-12 614.8 412)"/>
<path d="M993.16 48.95 C1014.21 63.68 1037.89 87.37 1048.42 108.42 C1064.51 127.37 1061.62 157.78 1051.48 178.05 C1045.69 191.08 1035.56 209.9 1025.42 220.03 C963.21 274.4 940.83 282.23 918.46 281.56 C896.08 279.99 875.94 267.68 860.28 263.21 C849.09 259.18 840.14 257.61 830.07 256.94" fill="none" stroke="#000" stroke-width="1.1" stroke-linejoin="round" stroke-linecap="round" />
<path d="M830.07 256.94 C833.43 227.41 839.02 182.65 845.06 153.56 C847.97 141.26 853.56 131.19 862.52 120" fill="none" stroke="#000" stroke-width="1.1" stroke-linejoin="round" stroke-dasharray="6.2 1.9" stroke-linecap="butt"/>
<path d="M844.17 258.73 C847.3 229.64 853.56 184.89 859.38 153.56 C862.52 140.14 868.11 132.31 874.82 126.71" fill="none" stroke="#000" stroke-width="1.1" stroke-linejoin="round" stroke-dasharray="6.2 1.9" stroke-linecap="butt"/>
<path d="M894.29 277.75 L903.24 235.24 L913.53 187.13" fill="none" stroke="#000" stroke-width="1.1" stroke-linejoin="round" stroke-dasharray="6.2 1.9" stroke-linecap="butt"/>
<path d="M917.56 173.7 C921.81 162.52 930.76 150.21 941.95 141.93" fill="none" stroke="#000" stroke-width="1.1" stroke-linejoin="round" stroke-dasharray="6.2 1.9" stroke-linecap="butt"/>
<path d="M908.39 280.21 L916.67 239.71 C922.93 209.51 929.64 175.94 945.31 145.06" fill="none" stroke="#000" stroke-width="1.1" stroke-linejoin="round" stroke-dasharray="6.2 1.9" stroke-linecap="butt"/>
<path d="M898.32 144.61 L908.39 177.06" fill="none" stroke="#000" stroke-width="1.1" stroke-linejoin="round" stroke-dasharray="6.2 1.9" stroke-linecap="butt"/>
<path d="M909.95 144.61 L918.9 171.91" fill="none" stroke="#000" stroke-width="1.1" stroke-linejoin="round" stroke-dasharray="6.2 1.9" stroke-linecap="butt"/>
<path d="M903.91 178.63 L908.61 177.06 L924.27 183.55 C926.06 187.13 924.72 191.16 921.81 192.72 L906.37 185.34 Z" fill="#fff" stroke="#000" stroke-width="1" stroke-linejoin="round" stroke-linecap="round" />
<path d="M906.82 179.97 L913.98 183.1 L912.64 185.34 L906.37 182.65 Z" fill="#555" stroke="#000" stroke-width="0.8" stroke-linejoin="round" stroke-linecap="round" />
<ellipse cx="929.42" cy="204.58" rx="1.3" ry="5" fill="#fff" stroke="#000" stroke-width="1" transform="rotate(-8 929.42 204.58)"/>
<path d="M928.3 198.32 L926.51 191.16" fill="none" stroke="#000" stroke-width="0.8" stroke-linejoin="round" stroke-linecap="round" />
<path d="M915.1 153.56 L919.8 162.07 L916.67 162.52 L918.68 171.91" fill="none" stroke="#000" stroke-width="1.2" stroke-linejoin="round" stroke-linecap="round" />
<path d="M846.32 91.05 L839.74 87.37 L830.53 87.63 C827.89 88.29 827.63 92.89 829.47 97.5 L838.42 101.84 C843.03 103.42 845.66 106.05 846.32 110.66 L847.89 116.58 L852.37 120.79 L863.42 116.84" fill="none" stroke="#000" stroke-width="1.1" stroke-linejoin="round" stroke-dasharray="6.2 1.9" stroke-linecap="butt"/>
<path d="M863.42 136.32 L872.11 128.42" fill="none" stroke="#000" stroke-width="0.8" stroke-linejoin="round" stroke-dasharray="6.2 1.9" stroke-linecap="butt"/>
<path d="M853.16 107.37 C849.61 107.37 849.61 111.97 853.16 111.58" fill="none" stroke="#000" stroke-width="1.1" stroke-linejoin="round" stroke-linecap="round" />
<path d="M854.47 88.29 L865.39 84.34 L877.37 88.16 L877.37 98.68 L865.39 99.47 L864.08 99.47 L854.47 96.32 Z" fill="#fff" stroke="#000" stroke-width="1" stroke-linejoin="round" stroke-linecap="round" />
<path d="M854.47 88.29 L865.39 92.24 L877.37 88.16" fill="none" stroke="#000" stroke-width="0.9" stroke-linejoin="round" stroke-linecap="round" />
<path d="M865.39 92.24 L865.39 99.47" fill="none" stroke="#000" stroke-width="1.4" stroke-linejoin="round" stroke-linecap="round" />
<circle cx="866.05" cy="87.37" r="1.2" fill="#333" stroke="#000" stroke-width="0.8"/>
<path d="M865.39 99.47 L948.95 127.37" fill="none" stroke="#000" stroke-width="1.1" stroke-linejoin="round" stroke-dasharray="6.2 1.9" stroke-linecap="butt"/>
<path d="M874.87 101.32 L882.24 103.68" fill="none" stroke="#000" stroke-width="1.5" stroke-linejoin="round" stroke-linecap="round" />
<path d="M893.29 106.97 L900.66 109.34" fill="none" stroke="#000" stroke-width="1.5" stroke-linejoin="round" stroke-linecap="round" />
<path d="M909.08 112.24 L916.45 114.61" fill="none" stroke="#000" stroke-width="1.5" stroke-linejoin="round" stroke-linecap="round" />
<path d="M924.47 117.5 L931.84 119.87" fill="none" stroke="#000" stroke-width="1.5" stroke-linejoin="round" stroke-linecap="round" />
<path d="M938.68 122.76 L946.05 125.13" fill="none" stroke="#000" stroke-width="1.5" stroke-linejoin="round" stroke-linecap="round" />
<path d="M871.97 117.24 L881.18 113.29 L882.63 119.21 L885.79 120.79 L893.95 117.89 L892.11 131.05 L884.47 133.68 L872.11 128.42 Z" fill="#fff" stroke="#000" stroke-width="1" stroke-linejoin="round" stroke-linecap="round" />
<path d="M884.47 121.58 L884.47 133.42" fill="none" stroke="#000" stroke-width="0.9" stroke-linejoin="round" stroke-linecap="round" />
<ellipse cx="878.03" cy="125.53" rx="2.4" ry="3.6" fill="#fff" stroke="#000" stroke-width="1.1" transform="rotate(-10 878.03 125.53)"/>
<ellipse cx="878.42" cy="125.53" rx="1.5" ry="2.6" fill="none" stroke="#000" stroke-width="0.7" transform="rotate(-10 878.42 125.53)"/>
<ellipse cx="903.16" cy="127.11" rx="4.8" ry="6.8" fill="#fff" stroke="#000" stroke-width="1.2" transform="rotate(-12 903.16 127.11)"/>
<path d="M905.53 121.18 C907.89 124.47 907.89 129.74 905.26 133.03" fill="none" stroke="#000" stroke-width="0.8" stroke-linejoin="round" stroke-linecap="round" />
<path d="M884.47 133.68 L934.47 147.89" fill="none" stroke="#000" stroke-width="1.1" stroke-linejoin="round" stroke-dasharray="6.2 1.9" stroke-linecap="butt"/>
<circle cx="921.58" cy="140.26" r="1.4" fill="#000" stroke="#000" stroke-width="0.8"/>
<circle cx="931.32" cy="143.68" r="1.4" fill="#000" stroke="#000" stroke-width="0.8"/>
<path d="M933.03 146.24 C935.23 143.49 937.98 141.84 940.74 142.72 C944.04 144.04 945.14 149.54 943.16 153.73 L951.75 153.95 C955.05 153.73 957.25 151.75 960 150.09 C961.1 147.34 964.41 146.79 965.84 150.86 C970.46 152.3 975.97 149.54 981.47 146.02 L982.57 143.49" fill="none" stroke="#000" stroke-width="1.1" stroke-linejoin="round" stroke-linecap="round" />
<path d="M939.08 160.55 L951.75 153.95" fill="none" stroke="#000" stroke-width="1" stroke-linejoin="round" stroke-linecap="round" />
<path d="M956.37 142.72 C952.85 142.28 952.85 146.9 956.37 146.68" fill="none" stroke="#000" stroke-width="1.2" stroke-linejoin="round" stroke-linecap="round" />
<circle cx="965.51" cy="152.3" r="1.1" fill="#000" stroke="#000" stroke-width="0.8"/>
<circle cx="951.52" cy="155.05" r="0.9" fill="#000" stroke="#000" stroke-width="0.6"/>
<path d="M982.28 139.25 L987.78 139.25 L987.78 144.17 L982.28 144.17 Z" fill="#666" stroke="#000" stroke-width="0.9" stroke-linejoin="round" stroke-linecap="round" />
<path d="M989.95 139.39 C995.74 138.96 996.17 145.47 990.96 148.8 L987.78 149.38" fill="none" stroke="#000" stroke-width="1.4" stroke-linejoin="round" stroke-linecap="round" />
<path d="M948.69 121.87 L960.27 117.24 L970.69 120.13 L970.69 130.27 L958.82 131.14 L948.69 128.1 Z" fill="#fff" stroke="#000" stroke-width="1" stroke-linejoin="round" stroke-linecap="round" />
<path d="M948.69 121.87 L958.82 124.48 L970.69 120.13" fill="none" stroke="#000" stroke-width="0.9" stroke-linejoin="round" stroke-linecap="round" />
<path d="M958.82 124.48 L958.82 131.14" fill="none" stroke="#000" stroke-width="1.4" stroke-linejoin="round" stroke-linecap="round" />
<circle cx="960.27" cy="119.85" r="1.2" fill="#333" stroke="#000" stroke-width="0.8"/>
<path d="M958.82 131.14 L983.43 137.8" fill="none" stroke="#000" stroke-width="1.1" stroke-linejoin="round" stroke-dasharray="6.2 1.9" stroke-linecap="butt"/>
<path d="M907.25 92.86 L993.16 48.95" fill="none" stroke="#000" stroke-width="1.1" stroke-linejoin="round" stroke-dasharray="6.2 1.9" stroke-linecap="butt"/>
<path d="M986.58 66.97 L1004.34 59.08" fill="none" stroke="#000" stroke-width="1.1" stroke-linejoin="round" stroke-dasharray="6.2 1.9" stroke-linecap="butt"/>
<path d="M907.25 108.53 L948.35 122.02" fill="none" stroke="#000" stroke-width="0.8" stroke-linejoin="round" stroke-dasharray="6.2 1.9" stroke-linecap="butt"/>
<path d="M907.25 108.53 L918.16 103.65" fill="none" stroke="#000" stroke-width="0.8" stroke-linejoin="round" stroke-dasharray="6.2 1.9" stroke-linecap="butt"/>
<path d="M918.16 103.65 L959.9 117.52" fill="none" stroke="#000" stroke-width="0.8" stroke-linejoin="round" stroke-dasharray="6.2 1.9" stroke-linecap="butt"/>
<path d="M918.16 103.65 C915.98 99.54 916.88 91.19 922.02 90.29 L936.79 95.17" fill="none" stroke="#000" stroke-width="0.9" stroke-linejoin="round" stroke-dasharray="6.2 1.9" stroke-linecap="butt"/>
<path d="M970.18 121.12 L981.74 125.48 L1025.41 106.22" fill="none" stroke="#000" stroke-width="0.8" stroke-linejoin="round" stroke-dasharray="6.2 1.9" stroke-linecap="butt"/>
<path d="M972.75 128.44 L1009.99 113.67" fill="none" stroke="#000" stroke-width="0.8" stroke-linejoin="round" stroke-dasharray="6.2 1.9" stroke-linecap="butt"/>
<path d="M887.34 103.65 L907.25 92.86" fill="none" stroke="#000" stroke-width="0.8" stroke-linejoin="round" stroke-dasharray="6.2 1.9" stroke-linecap="butt"/>
<path d="M946.45 54.21 L986.58 67.63 L975.39 112.63 L935.92 100 Z" fill="none" stroke="#000" stroke-width="1" stroke-linejoin="round" stroke-dasharray="6.2 1.9" stroke-linecap="butt"/>
<path d="M986.58 67.63 L990 71.05 L991.58 82.11 L983.95 111.71 L980 111.05 L975.39 112.63" fill="none" stroke="#000" stroke-width="0.9" stroke-linejoin="round" stroke-dasharray="6.2 1.9" stroke-linecap="butt"/>
<path d="M980 111.05 L999.08 116.58" fill="none" stroke="#000" stroke-width="0.8" stroke-linejoin="round" stroke-dasharray="6.2 1.9" stroke-linecap="butt"/>
<circle cx="950.66" cy="65.39" r="1.7" fill="#444" stroke="#000" stroke-width="0.8"/>
<circle cx="976.45" cy="74.21" r="1.7" fill="#444" stroke="#000" stroke-width="0.8"/>
<path d="M949.74 78.16 L969.21 84.08 C972.76 86.05 974.08 90 973.16 95.26 C972.37 101.84 969.47 103.82 965.53 102.89 L949.74 96.58 C944.47 93.95 943.16 88.68 944.21 84.08 C945.13 79.47 947.11 77.89 949.74 78.16 Z" fill="#fff" stroke="#000" stroke-width="1.4" stroke-linejoin="round" stroke-linecap="round" />
<path d="M949.74 79.47 C946.84 82.11 946.05 88.68 948.42 93.29" fill="none" stroke="#000" stroke-width="1.2" stroke-linejoin="round" stroke-linecap="round" />
<path d="M948.16 87.63 L961.58 81.58" fill="none" stroke="#000" stroke-width="0.9" stroke-linejoin="round" stroke-linecap="round" />
<path d="M988.5 137.51 L1034.83 118.4 C1038.45 116.52 1039.9 113.62 1040.62 110.72" fill="none" stroke="#000" stroke-width="1" stroke-linejoin="round" stroke-dasharray="6.2 1.9" stroke-linecap="butt"/>
<path d="M1032.66 119.56 L1034.4 128.82 L1032.66 136.35 L1036.71 167.62 C1041.35 167.19 1042.79 173.7 1039.9 178.05 L1038.45 179.78 L1040.77 200.49 L1012.39 212.79 L989.95 160.09 L982.28 163.86" fill="none" stroke="#000" stroke-width="1" stroke-linejoin="round" stroke-dasharray="6.2 1.9" stroke-linecap="butt"/>
<path d="M989.95 160.09 L982.28 163.86 C976.2 165.74 974.02 158.5 979.09 157.05 L984.88 155.17" fill="none" stroke="#000" stroke-width="1.1" stroke-linejoin="round" stroke-linecap="round" />
<circle cx="980.25" cy="160.38" r="1.4" fill="#000" stroke="#000" stroke-width="0.8"/>
<ellipse cx="1013.11" cy="151.26" rx="8.6" ry="11.2" fill="none" stroke="#000" stroke-width="1.1" transform="rotate(12 1013.11 151.26)"/>
<ellipse cx="1018.18" cy="187.46" rx="8.6" ry="11.2" fill="none" stroke="#000" stroke-width="1.1" transform="rotate(12 1018.18 187.46)"/>
<ellipse cx="1024.99" cy="166.17" rx="2.4" ry="2.9" fill="none" stroke="#000" stroke-width="1" transform="rotate(15 1024.99 166.17)"/>
<ellipse cx="1005.44" cy="173.99" rx="2.1" ry="2.7" fill="none" stroke="#000" stroke-width="1" transform="rotate(15 1005.44 173.99)"/>
<circle cx="1034.11" cy="132.15" r="1" fill="#000" stroke="#000" stroke-width="0.8"/>
<circle cx="1042.5" cy="172.55" r="1" fill="#000" stroke="#000" stroke-width="0.8"/>
<ellipse cx="1034.11" cy="132.15" rx="2.3" ry="2.6" fill="none" stroke="#000" stroke-width="0.7"/>
<ellipse cx="1042.5" cy="172.55" rx="2.3" ry="2.6" fill="none" stroke="#000" stroke-width="0.7"/>
<path d="M1041.35 124.48 L1050.9 150.83" fill="none" stroke="#333" stroke-width="2.4" stroke-linejoin="round" stroke-linecap="round" />
<path d="M1039.9 123.32 C1041.35 121.58 1043.52 122.31 1044.53 124.48" fill="none" stroke="#000" stroke-width="0.9" stroke-linejoin="round" stroke-linecap="round" />
<path d="M1047.14 125.93 L1052.35 132.01" fill="none" stroke="#000" stroke-width="0.9" stroke-linejoin="round" stroke-linecap="round" />
<path d="M1040.62 110.72 L1052.93 121.58" fill="none" stroke="#222" stroke-width="2.2" stroke-linejoin="round" stroke-linecap="round" />
<path d="M1044.53 124.48 L1055.1 172.26" fill="none" stroke="#000" stroke-width="0.8" stroke-linejoin="round" stroke-dasharray="6.2 1.9" stroke-linecap="butt"/>
<path d="M777.68 352.05 L777.68 295.91 C777.68 285.27 787.79 279.15 802.42 278.62 L807.74 279.15 L874.25 302.03 C886.22 307.89 899.52 322.52 902.71 335.82 L903.25 393.01 L898.19 393.01 L862.81 381.31 C856.96 366.41 844.99 353.64 833.01 352.05 C825.03 352.05 819.18 357.1 817.05 364.28 L798.96 358.43 Z" fill="#fff" stroke="#000" stroke-width="2.4" stroke-linejoin="round" stroke-linecap="round" />
<path d="M779.81 350.98 L779.81 296.71 C780.34 287.13 789.12 281.81 802.42 281.28 L807.21 281.55 L872.92 304.16 C884.89 310.55 897.39 323.85 900.05 337.15 L900.05 390.89" fill="none" stroke="#000" stroke-width="1.2" stroke-linejoin="round" stroke-linecap="round" />
<path d="M782.47 351.78 L782.47 297.78 C783 289.26 790.45 284.47 802.42 283.94 L806.41 284.21 L871.59 306.55" fill="none" stroke="#000" stroke-width="0.8" stroke-linejoin="round" stroke-linecap="round" />
<path d="M864.94 380.24 C859.08 367.74 846.32 356.3 834.34 354.71 C827.16 354.71 821.84 358.96 819.71 363.75" fill="none" stroke="#000" stroke-width="1.3" stroke-linejoin="round" stroke-linecap="round" />
<path d="M898.19 337.15 L903.25 337.68 L903.25 393.01 L898.19 392.48 Z" fill="#000" stroke="#000" stroke-width="0.8" stroke-linejoin="round" stroke-linecap="round" />
<path d="M889.41 337.15 L897.39 338.48 L897.39 390.89 L889.41 387.69 Z" fill="#fff" stroke="#000" stroke-width="1" stroke-linejoin="round" stroke-linecap="round" />
<path d="M795.24 360.56 L795.24 295.65 C795.24 290.86 802.69 290.86 802.69 295.65 L802.69 362.69" fill="#fff" stroke="#000" stroke-width="1.6" stroke-linejoin="round" stroke-linecap="round" />
<path d="M795.24 360.56 L802.69 362.69" fill="none" stroke="#000" stroke-width="1" stroke-linejoin="round" stroke-linecap="round" />
<path d="M880.9 387.16 L880.9 324.38 C880.9 319.59 887.82 319.59 887.82 324.38 L887.82 389.29" fill="#fff" stroke="#000" stroke-width="1.6" stroke-linejoin="round" stroke-linecap="round" />
<path d="M880.9 387.16 L887.82 389.29" fill="none" stroke="#000" stroke-width="1" stroke-linejoin="round" stroke-linecap="round" />
<path d="M825.57 306.82 L856.96 319.06 C862.28 321.72 863.87 325.18 863.87 329.7 L863.87 338.48 C863.87 344.6 859.62 345.66 855.63 344.33 L825.03 332.36 C820.24 329.7 818.38 326.51 818.38 322.52 L818.38 313.21 C818.38 307.35 821.84 305.76 825.57 306.82 Z" fill="#fff" stroke="#000" stroke-width="1.7" stroke-linejoin="round" stroke-linecap="round" />
<path d="M827.69 308.95 L856.32 320.34 C860.15 322.57 861.75 325.18 861.75 329.7 L861.75 337.2 C861.75 342.47 857.49 343.53 854.35 342.2 L825.88 331.51 C822.37 329.7 820.51 326.51 820.51 322.52 L820.51 314.27 C820.51 309.48 823.97 307.89 827.69 308.95 Z" fill="#fff" stroke="#000" stroke-width="1.5" stroke-linejoin="round" stroke-linecap="round" />
<circle cx="816.52" cy="294.58" r="2" fill="#111" stroke="#000" stroke-width="0.8"/>
<circle cx="871.06" cy="313.21" r="2" fill="#111" stroke="#000" stroke-width="0.8"/>
<circle cx="816.52" cy="339.01" r="2" fill="#111" stroke="#000" stroke-width="0.8"/>
<circle cx="871.06" cy="357.9" r="2" fill="#111" stroke="#000" stroke-width="0.8"/>
<rect x="784.29" y="303.39" width="7" height="9" fill="#000"/>
<rect x="786.79" y="306.39" width="2" height="3" fill="#888"/>
<rect x="784.29" y="341.96" width="7" height="9" fill="#000"/>
<rect x="786.79" y="344.96" width="2" height="3" fill="#888"/>
<rect x="889.64" y="339.56" width="7" height="9" fill="#000"/>
<rect x="892.14" y="342.56" width="2" height="3" fill="#888"/>
<rect x="889.64" y="378.41" width="7" height="9" fill="#000"/>
<rect x="892.14" y="381.41" width="2" height="3" fill="#888"/>
<path d="M755.74 54.83 L784.13 52.44 L802.5 51.25 L809.66 53.4 L822.54 55.78 L818.72 60.08 L811.56 64.13 L804.41 58.17 L794.39 57.69 L778.17 61.03 L768.63 58.65 L756.7 58.17 Z" fill="#fff" stroke="#000" stroke-width="1.1" stroke-linejoin="round" stroke-linecap="round" />
<path d="M756.7 56.26 L802.5 53.4 L811.56 55.78" fill="none" stroke="#000" stroke-width="1" stroke-linejoin="round" stroke-linecap="round" />
<path d="M768.63 55.78 L794.87 54.59" fill="none" stroke="#000" stroke-width="2" stroke-linejoin="round" stroke-linecap="round" />
<ellipse cx="760.04" cy="56.74" rx="2.8" ry="1.8" fill="#222" stroke="#000" stroke-width="1.2"/>
<ellipse cx="803.22" cy="56.26" rx="1.5" ry="3.2" fill="#111" stroke="#000" stroke-width="1"/>
<ellipse cx="813.47" cy="59.6" rx="2.6" ry="2.2" fill="#111" stroke="#000" stroke-width="1.2"/>
<ellipse cx="816.81" cy="58.17" rx="1.4" ry="1.8" fill="#333" stroke="#000" stroke-width="0.9"/>
<ellipse cx="763.85" cy="57.45" rx="1.6" ry="1.2" fill="#555" stroke="#000" stroke-width="0.8"/>
<ellipse cx="775.78" cy="59.6" rx="2.4" ry="1.4" fill="#444" stroke="#000" stroke-width="0.9"/>
<path d="M822.54 55.78 L882.18 144.52 L930.84 143.57" fill="none" stroke="#000" stroke-width="0.9" stroke-linejoin="round" stroke-linecap="round" />
<path d="M815.38 61.03 L876.45 137.37 L921.3 140.47" fill="none" stroke="#000" stroke-width="0.9" stroke-linejoin="round" stroke-linecap="round" />
<path d="M794.39 58.17 L801.55 68.9 L792.48 70.33" fill="none" stroke="#000" stroke-width="0.8" stroke-linejoin="round" stroke-linecap="round" />
<path d="M811.56 64.37 L819.2 77.97 L811.09 79.16" fill="none" stroke="#000" stroke-width="0.8" stroke-linejoin="round" stroke-linecap="round" />
<path d="M772.2 71.53 L780.08 70.81" fill="none" stroke="#000" stroke-width="0.8" stroke-linejoin="round" stroke-linecap="round" />
<rect x="780.58" y="66.77" width="5.2" height="7.6" rx="1" fill="#000"/>
<rect x="782.38" y="69.07" width="1.6" height="3" fill="#999"/>
<path d="M785.98 69.37 L791.18 68.97 L791.18 71.57 L785.98 71.97" fill="#fff" stroke="#000" stroke-width="0.8" stroke-linejoin="round" stroke-linecap="round" />
<rect x="799.18" y="75.84" width="5.2" height="7.6" rx="1" fill="#000"/>
<rect x="800.98" y="78.14" width="1.6" height="3" fill="#999"/>
<path d="M804.58 78.44 L809.78 78.04 L809.78 80.64 L804.58 81.04" fill="#fff" stroke="#000" stroke-width="0.8" stroke-linejoin="round" stroke-linecap="round" />
<path d="M582.89 313.16 L618.42 325.26 L618.42 375.66 L602.63 369.74 L563.16 354.61 C559.21 348.68 557.89 332.89 564.47 322.37 C568.42 316.45 576.32 312.89 582.89 313.16 Z" fill="#fff" stroke="#000" stroke-width="1.5" stroke-linejoin="round" stroke-linecap="round" />
<path d="M566.84 355.92 C562.5 348.68 561.18 332.89 567.37 322.37 C569.74 318.42 573.03 316.05 576.32 314.74" fill="none" stroke="#000" stroke-width="2.4" stroke-linejoin="round" stroke-linecap="round" />
<path d="M569.74 356.84 C565.53 349.34 564.21 333.55 570 323.03 C572.37 319.08 576.32 316.05 580.26 314.74" fill="none" stroke="#000" stroke-width="1.4" stroke-linejoin="round" stroke-linecap="round" />
<path d="M562.89 353.95 C560.26 347.37 559.47 335.53 563.16 326.32" fill="none" stroke="#000" stroke-width="2.6" stroke-linejoin="round" stroke-linecap="round" />
<circle cx="562.76" cy="321.05" r="4.2" fill="#000" stroke="#000" stroke-width="1"/>
<ellipse cx="562.11" cy="320.53" rx="1.3" ry="1.7" fill="#fff" stroke="#000" stroke-width="0.6"/>
<path d="M565.79 324.34 L569.74 318.42" fill="none" stroke="#000" stroke-width="2" stroke-linejoin="round" stroke-linecap="round" />
<ellipse cx="640.6" cy="358.1" rx="21.3" ry="32.5" fill="#fff" stroke="#000" stroke-width="1.5" transform="rotate(8 640.6 358.1)"/>
<ellipse cx="641.72" cy="358.1" rx="20.6" ry="31.4" fill="none" stroke="#000" stroke-width="0.9" transform="rotate(8 641.72 358.1)"/>
<path d="M640.93 346.9 L670.6 354.18 L670.6 377.69 L639.26 368.96 Z" fill="#fff" stroke="#000" stroke-width="1.1" stroke-linejoin="round" stroke-linecap="round" />
<ellipse cx="640.15" cy="357.99" rx="5.2" ry="11.2" fill="#fff" stroke="#000" stroke-width="1.1" transform="rotate(5 640.15 357.99)"/>
<path d="M642.61 347.69 C637.58 350.82 636.46 364.26 640.93 368.51" fill="none" stroke="#000" stroke-width="0.9" stroke-linejoin="round" stroke-linecap="round" />
<path d="M602.87 332.91 L618.55 325.97 L626.94 322.39 L642.39 323.06 L642.61 325.97 L634.78 328.66 L616.64 336.49 Z" fill="#fff" stroke="#000" stroke-width="1.6" stroke-linejoin="round" stroke-linecap="round" />
<path d="M618.55 325.97 L628.06 326.19 L634.78 328.66" fill="none" stroke="#000" stroke-width="1" stroke-linejoin="round" stroke-linecap="round" />
<path d="M616.31 336.27 L623.58 333.47 L623.58 331.79 C620.23 344.11 619.33 368.73 623.58 386.64 L637.02 387.99 L616.87 396.16 Z" fill="#fff" stroke="#000" stroke-width="1.4" stroke-linejoin="round" stroke-linecap="round" />
<circle cx="622.13" cy="338.06" r="1.4" fill="#000" stroke="#000" stroke-width="0.8"/>
<circle cx="622.13" cy="386.87" r="1.4" fill="#000" stroke="#000" stroke-width="0.8"/>
<path d="M619.33 345.78 L619.33 383.29" fill="none" stroke="#000" stroke-width="2.2" stroke-linejoin="round" stroke-linecap="round" />
<path d="M602.54 332.91 L616.64 336.49 L616.64 396.16 L602.54 392.24 Z" fill="#000" stroke="#000" stroke-width="1.2" stroke-linejoin="round" stroke-linecap="round" />
<path d="M605.22 342.43 L608.36 343.1 L608.36 352.61 L605.22 351.94 Z" fill="#fff" stroke="#fff" stroke-width="0.4" stroke-linejoin="round" stroke-linecap="round" />
<path d="M605.22 355.3 L608.36 355.97 L608.36 368.29 L605.22 367.61 Z" fill="#fff" stroke="#fff" stroke-width="0.4" stroke-linejoin="round" stroke-linecap="round" />
<path d="M605.22 370.97 L608.36 371.64 L608.36 378.36 L605.22 377.69 Z" fill="#fff" stroke="#fff" stroke-width="0.4" stroke-linejoin="round" stroke-linecap="round" />
<path d="M610.93 342.99 L613.62 343.66 L613.62 353.73 L610.93 353.06 Z" fill="#fff" stroke="#fff" stroke-width="0.4" stroke-linejoin="round" stroke-linecap="round" />
<path d="M610.93 355.86 L613.62 356.53 L613.62 369.41 L610.93 368.73 Z" fill="#fff" stroke="#fff" stroke-width="0.4" stroke-linejoin="round" stroke-linecap="round" />
<path d="M610.93 371.53 L613.73 372.2 L613.73 380.04 L610.93 379.37 Z" fill="#fff" stroke="#fff" stroke-width="0.4" stroke-linejoin="round" stroke-linecap="round" />
<path d="M604.78 381.05 L609.93 381.72 L609.93 383.96 L604.78 383.29 Z" fill="#fff" stroke="#fff" stroke-width="0.4" stroke-linejoin="round" stroke-linecap="round" />
<path d="M611.27 383.29 L615.19 383.96 L615.19 385.97 L611.27 385.3 Z" fill="#fff" stroke="#fff" stroke-width="0.4" stroke-linejoin="round" stroke-linecap="round" />
<path d="M606.79 386.64 L610.15 387.32 L610.15 389.78 L606.79 389.11 Z" fill="#fff" stroke="#fff" stroke-width="0.4" stroke-linejoin="round" stroke-linecap="round" />
<path d="M604.55 334.59 L609.03 335.26 L609.03 336.94 L604.55 336.27 Z" fill="#fff" stroke="#fff" stroke-width="0.4" stroke-linejoin="round" stroke-linecap="round" />
<path d="M609.59 339.07 L615.52 340.52 L615.52 341.64 L609.59 340.3 Z" fill="#fff" stroke="#fff" stroke-width="0.3" stroke-linejoin="round" stroke-linecap="round" />
<path d="M603.66 342.99 C600.3 351.94 600.3 364.26 604.55 373.21" fill="none" stroke="#000" stroke-width="1.8" stroke-linejoin="round" stroke-linecap="round" />
<path d="M602.09 348.58 C600.97 355.3 601.19 362.02 603.21 367.61" fill="none" stroke="#000" stroke-width="1" stroke-linejoin="round" stroke-linecap="round" />
<path d="M616.87 396.16 L626.94 392.47 L649.89 382.39" fill="none" stroke="#000" stroke-width="1.6" stroke-linejoin="round" stroke-linecap="round" />
<path d="M636.84 326.32 L650.53 321.32 L662.11 323.95 L662.37 327.63 L652.89 330.53 L637.76 329.47 Z" fill="#fff" stroke="#000" stroke-width="1.6" stroke-linejoin="round" stroke-linecap="round" />
<path d="M637.76 328.42 L650.92 323.95 L662.11 326.32" fill="none" stroke="#000" stroke-width="1" stroke-linejoin="round" stroke-linecap="round" />
<path d="M662.11 327.24 L691.05 338.42 L688.68 342.89 L658.82 332.63 Z" fill="#fff" stroke="#000" stroke-width="1.5" stroke-linejoin="round" stroke-linecap="round" />
<path d="M690.39 336.58 L695.66 335 L704.47 337.76 L709.21 341.71 L708.82 346.58 L702.89 345.53 L697.63 343.95 L688.82 342.63 Z" fill="#fff" stroke="#000" stroke-width="1.6" stroke-linejoin="round" stroke-linecap="round" />
<path d="M690.39 338.42 L696.05 337.11 L704.47 339.74 L708.95 343.68" fill="none" stroke="#000" stroke-width="1" stroke-linejoin="round" stroke-linecap="round" />
<circle cx="705" cy="344.47" r="1.9" fill="#fff" stroke="#000" stroke-width="1.6"/>
<path d="M658.16 333.16 C661.45 338.42 662.76 343.68 660.79 348.29" fill="none" stroke="#000" stroke-width="1.6" stroke-linejoin="round" stroke-linecap="round" />
<path d="M706.84 346.97 L707.89 354.47 L713.68 363.68 L714.47 375.26 L712.37 386.45 L707.89 393.95 L697.63 399.21 L673.29 407.89" fill="none" stroke="#000" stroke-width="1.5" stroke-linejoin="round" stroke-linecap="round" />
<path d="M688.52 350.13 L702.73 353.68 L712.2 363.15 L714.72 370.26 L713.15 387.62 L705.88 394.09 L694.05 398.83 L682.21 396.46 L671.16 386.83 L671.95 368.68 L675.89 360 Z" fill="#000" stroke="#000" stroke-width="1.2" stroke-linejoin="round" stroke-linecap="round" />
<path d="M683.39 354.87 L693.65 351.95 L700.36 356.84 L690.1 361.18 Z" fill="#fff" stroke="#fff" stroke-width="0.5" stroke-linejoin="round" stroke-linecap="round" />
<path d="M675.73 361.97 L684.97 364.34 L685.52 371.68 L675.26 369.47 Z" fill="#fff" stroke="#fff" stroke-width="0.5" stroke-linejoin="round" stroke-linecap="round" />
<path d="M674.16 370.65 L684.73 372.78 L684.42 380.91 L673.37 378.94 Z" fill="#fff" stroke="#fff" stroke-width="0.5" stroke-linejoin="round" stroke-linecap="round" />
<path d="M672.58 380.67 L682.36 384.86 L681.58 392.75 L672.34 388.41 Z" fill="#fff" stroke="#fff" stroke-width="0.5" stroke-linejoin="round" stroke-linecap="round" />
<path d="M683 392.36 L694.05 395.12 L692.47 398.83 L682.6 396.7 Z" fill="#fff" stroke="#fff" stroke-width="0.5" stroke-linejoin="round" stroke-linecap="round" />
<path d="M699.97 355.1 L705.88 358.26 L704.46 361.97 L698.78 358.58 Z" fill="#fff" stroke="#fff" stroke-width="0.5" stroke-linejoin="round" stroke-linecap="round" />
<path d="M685.76 357.63 L695.23 354.63" fill="none" stroke="#000" stroke-width="0.8" stroke-linejoin="round" stroke-linecap="round" />
<path d="M675.58 365.68 L685.05 368.05" fill="none" stroke="#000" stroke-width="0.8" stroke-linejoin="round" stroke-linecap="round" />
<path d="M673.92 374.83 L684.57 376.97" fill="none" stroke="#000" stroke-width="0.8" stroke-linejoin="round" stroke-linecap="round" />
<path d="M672.58 384.46 L682.05 388.88" fill="none" stroke="#000" stroke-width="0.8" stroke-linejoin="round" stroke-linecap="round" />
<path d="M692.07 361.73 C686.55 366.31 684.97 378.15 688.68 387.62 L694.44 392.75 C690.49 386.04 688.68 376.57 691.68 367.89 L695.23 363.55 Z" fill="#fff" stroke="#fff" stroke-width="0.5" stroke-linejoin="round" stroke-linecap="round" />
<ellipse cx="700.52" cy="376.57" rx="12.2" ry="15.6" fill="#000" stroke="#000" stroke-width="0.8" transform="rotate(-10 700.52 376.57)"/>
<ellipse cx="698.39" cy="376.1" rx="8.6" ry="12.2" fill="#fff" stroke="#fff" stroke-width="0.6" transform="rotate(-10 698.39 376.1)"/>
<ellipse cx="699.89" cy="376.41" rx="7.6" ry="11.4" fill="#000" stroke="#000" stroke-width="0.6" transform="rotate(-10 699.89 376.41)"/>
<ellipse cx="699.25" cy="376.73" rx="5.6" ry="8" fill="#000" stroke="#fff" stroke-width="1.4" transform="rotate(-10 699.25 376.73)"/>
<ellipse cx="697.83" cy="376.73" rx="3.4" ry="5.2" fill="#000" stroke="#000" stroke-width="0.6" transform="rotate(-10 697.83 376.73)"/>
<path d="M707.46 375.39 L709.36 377.36 L707.15 380.12 Z" fill="#fff" stroke="#fff" stroke-width="0.5" stroke-linejoin="round" stroke-linecap="round" />
<path d="M705.73 381.7 L708.09 383.67 L704.94 386.44 Z" fill="#fff" stroke="#fff" stroke-width="0.5" stroke-linejoin="round" stroke-linecap="round" />
<path d="M710.23 385.65 L712.36 388.01 L709.04 389.59 Z" fill="#fff" stroke="#fff" stroke-width="0.5" stroke-linejoin="round" stroke-linecap="round" />
<path d="M701.15 364.34 L709.04 368.68" fill="none" stroke="#fff" stroke-width="1.2" stroke-linejoin="round" stroke-linecap="round" />
<path d="M652.63 348.29 L671.32 341.45 L688.42 339.74 L690.39 342.11 L675 348.29 L673.42 352.24 L656.84 352.24 Z" fill="#fff" stroke="#000" stroke-width="1.6" stroke-linejoin="round" stroke-linecap="round" />
<path d="M675 348.29 L658.16 349.21" fill="none" stroke="#000" stroke-width="0.9" stroke-linejoin="round" stroke-linecap="round" />
<path d="M653.95 352.24 L666.05 352.89 L666.05 410.79 L653.95 406.18 Z" fill="#000" stroke="#000" stroke-width="1.2" stroke-linejoin="round" stroke-linecap="round" />
<path d="M666.05 353.55 L673.42 352.63 L673.42 360.13 L666.05 361.45 Z" fill="#fff" stroke="#000" stroke-width="1.4" stroke-linejoin="round" stroke-linecap="round" />
<path d="M666.05 397.63 L673.42 395.66 L673.42 407.89 L666.05 410.79 Z" fill="#fff" stroke="#000" stroke-width="1.4" stroke-linejoin="round" stroke-linecap="round" />
<path d="M666.05 404.21 L673.42 401.84" fill="none" stroke="#000" stroke-width="0.9" stroke-linejoin="round" stroke-linecap="round" />
<path d="M658.82 362.11 C656.18 372.63 656.58 385.79 659.21 395.66 L664.74 396.32 L664.74 362.11 Z" fill="#fff" stroke="#fff" stroke-width="0.5" stroke-linejoin="round" stroke-linecap="round" />
<path d="M664.74 361.84 C663.16 372.63 663.16 385.79 664.74 396.32" fill="none" stroke="#000" stroke-width="1" stroke-linejoin="round" stroke-linecap="round" />
<path d="M656.18 354.47 L659.47 354.87 L659.47 358.55 L656.18 358.16 Z" fill="#fff" stroke="#fff" stroke-width="0.4" stroke-linejoin="round" stroke-linecap="round" />
<path d="M660.79 354.87 L664.74 355.26 L664.74 359.87 L660.79 359.47 Z" fill="#fff" stroke="#fff" stroke-width="0.4" stroke-linejoin="round" stroke-linecap="round" />
<path d="M656.18 399.61 L660.13 400 L660.13 404.61 L656.18 404.21 Z" fill="#fff" stroke="#fff" stroke-width="0.4" stroke-linejoin="round" stroke-linecap="round" />
<path d="M661.45 400.26 L664.74 400.66 L664.74 406.58 L661.45 406.18 Z" fill="#fff" stroke="#fff" stroke-width="0.4" stroke-linejoin="round" stroke-linecap="round" />
<path d="M653.95 359.47 C651.84 370 652.24 385.79 654.87 396.97" fill="none" stroke="#000" stroke-width="1.6" stroke-linejoin="round" stroke-linecap="round" />
<path d="M666.05 361.45 L666.05 397.63" fill="none" stroke="#000" stroke-width="1.4" stroke-linejoin="round" stroke-linecap="round" />
<path d="M666.05 410.79 L673.42 407.89" fill="none" stroke="#000" stroke-width="1.8" stroke-linejoin="round" stroke-linecap="round" />
<line x1="546" y1="354.74" x2="602" y2="342.29" stroke="#000" stroke-width="0.9" stroke-dasharray="12 1.8 2.4 1.8"/>
<line x1="668" y1="327.61" x2="816.5" y2="294.59" stroke="#000" stroke-width="0.9" stroke-dasharray="12 1.8 2.4 1.8"/>
<line x1="621" y1="367.54" x2="655" y2="360.15" stroke="#000" stroke-width="0.9" stroke-dasharray="12 1.8 2.4 1.8"/>
<line x1="708.5" y1="348.52" x2="871" y2="313.21" stroke="#000" stroke-width="0.9" stroke-dasharray="12 1.8 2.4 1.8"/>
<line x1="712.6" y1="361.7" x2="816.5" y2="339.01" stroke="#000" stroke-width="0.9" stroke-dasharray="12 1.8 2.4 1.8"/>
<line x1="710" y1="392.85" x2="871" y2="357.88" stroke="#000" stroke-width="0.9" stroke-dasharray="12 1.8 2.4 1.8"/>
<path d="M508.9 519.4 C510.33 522.18 514.07 529.75 517.5 536.1 C520.93 542.45 525.98 551.35 529.5 557.5 C533.02 563.65 536.15 569.48 538.6 573 C541.05 576.52 542.37 578.35 544.2 578.6 C546.03 578.85 548.6 577.1 549.6 574.5 C550.6 571.9 548.88 566.38 550.2 563 C551.52 559.62 553.2 556.82 557.5 554.2 C561.8 551.58 569.73 549.42 576 547.3 C582.27 545.18 590.33 542.35 595.1 541.5 C599.87 540.65 601.43 540.68 604.6 542.2 C607.77 543.72 608.47 546.03 614.1 550.6 C619.73 555.17 631.23 564.1 638.4 569.6 C645.57 575.1 652.15 580.17 657.1 583.6 C662.05 587.03 665.03 588.85 668.1 590.2 C671.17 591.55 672.88 592.07 675.5 591.7 C678.12 591.33 680.88 591 683.8 588 C686.72 585 689.93 579.77 693 573.7 C696.07 567.63 699.13 558.37 702.2 551.6 C705.27 544.83 708.48 537.43 711.4 533.1 C714.32 528.77 717.02 527.08 719.7 525.6 C722.38 524.12 726.2 524.43 727.5 524.2" fill="none" stroke="#000" stroke-width="11.2" stroke-linecap="butt" stroke-linejoin="round"/>
<path d="M508.9 519.4 C510.33 522.18 514.07 529.75 517.5 536.1 C520.93 542.45 525.98 551.35 529.5 557.5 C533.02 563.65 536.15 569.48 538.6 573 C541.05 576.52 542.37 578.35 544.2 578.6 C546.03 578.85 548.6 577.1 549.6 574.5 C550.6 571.9 548.88 566.38 550.2 563 C551.52 559.62 553.2 556.82 557.5 554.2 C561.8 551.58 569.73 549.42 576 547.3 C582.27 545.18 590.33 542.35 595.1 541.5 C599.87 540.65 601.43 540.68 604.6 542.2 C607.77 543.72 608.47 546.03 614.1 550.6 C619.73 555.17 631.23 564.1 638.4 569.6 C645.57 575.1 652.15 580.17 657.1 583.6 C662.05 587.03 665.03 588.85 668.1 590.2 C671.17 591.55 672.88 592.07 675.5 591.7 C678.12 591.33 680.88 591 683.8 588 C686.72 585 689.93 579.77 693 573.7 C696.07 567.63 699.13 558.37 702.2 551.6 C705.27 544.83 708.48 537.43 711.4 533.1 C714.32 528.77 717.02 527.08 719.7 525.6 C722.38 524.12 726.2 524.43 727.5 524.2" fill="none" stroke="#fff" stroke-width="7.6" stroke-linecap="butt" stroke-linejoin="round"/>
<ellipse cx="508.7" cy="519.12" rx="4.9" ry="2.2" fill="#fff" stroke="#000" stroke-width="1.4" transform="rotate(-28 508.7 519.12)"/>
<path d="M724.47 521.05 L734.08 523.68 L749.87 531.84 L736.32 539.74 L729.47 537.11 C723.55 534.47 719.61 529.61 722.24 523.95 C722.89 522.37 723.55 521.32 724.47 521.05" fill="#fff" stroke="#000" stroke-width="1.5" stroke-linejoin="round" stroke-linecap="round" />
<path d="M731.84 524.34 C728.82 527.63 727.5 532.24 728.42 536.18" fill="none" stroke="#000" stroke-width="1.1" stroke-linejoin="round" stroke-linecap="round" />
<path d="M741.97 533.95 L754.47 530.53 L758.42 532.89 L758.42 544.08 L742.63 548.42 Z" fill="#fff" stroke="#000" stroke-width="1.5" stroke-linejoin="round" stroke-linecap="round" />
<ellipse cx="741.97" cy="541.18" rx="4.8" ry="6.8" fill="#fff" stroke="#000" stroke-width="2.6" transform="rotate(-8 741.97 541.18)"/>
<ellipse cx="741.97" cy="541.18" rx="2.2" ry="3.4" fill="#fff" stroke="#000" stroke-width="1" transform="rotate(-8 741.97 541.18)"/>
<ellipse cx="762.11" cy="542.76" rx="4.2" ry="6.2" fill="#fff" stroke="#000" stroke-width="3" transform="rotate(-8 762.11 542.76)"/>
<ellipse cx="762.11" cy="542.76" rx="2.2" ry="3.6" fill="none" stroke="#000" stroke-width="0.9" transform="rotate(-8 762.11 542.76)"/>
<path d="M518 624.5 C521.77 622.92 533.17 617.65 540.6 615 C548.03 612.35 554.35 610.33 562.6 608.6 C570.85 606.87 582.47 605.3 590.1 604.6 C597.73 603.9 600.75 603.88 608.4 604.4 C616.05 604.92 628.2 606.8 636 607.7 C643.8 608.6 648.92 609.63 655.2 609.8 C661.48 609.97 667.55 610.18 673.7 608.7 C679.85 607.22 685.97 603.98 692.1 600.9 C698.23 597.82 704.02 592.92 710.5 590.2 C716.98 587.48 727.58 585.53 731 584.6" fill="none" stroke="#000" stroke-width="11.8" stroke-linecap="butt" stroke-linejoin="round"/>
<path d="M518 624.5 C521.77 622.92 533.17 617.65 540.6 615 C548.03 612.35 554.35 610.33 562.6 608.6 C570.85 606.87 582.47 605.3 590.1 604.6 C597.73 603.9 600.75 603.88 608.4 604.4 C616.05 604.92 628.2 606.8 636 607.7 C643.8 608.6 648.92 609.63 655.2 609.8 C661.48 609.97 667.55 610.18 673.7 608.7 C679.85 607.22 685.97 603.98 692.1 600.9 C698.23 597.82 704.02 592.92 710.5 590.2 C716.98 587.48 727.58 585.53 731 584.6" fill="none" stroke="#fff" stroke-width="8.2" stroke-linecap="butt" stroke-linejoin="round"/>
<path d="M731.05 578.95 L743.29 576.32 L761.71 574.74 L759.74 588.42 L743.95 591.05 L732.11 590.26 Z" fill="#fff" stroke="#000" stroke-width="1.5" stroke-linejoin="round" stroke-linecap="round" />
<path d="M743.29 576.32 L743.95 591.05" fill="none" stroke="#000" stroke-width="1.2" stroke-linejoin="round" stroke-linecap="round" />
<path d="M732.37 586.84 L758.42 584.21" fill="none" stroke="#666" stroke-width="0.7" stroke-linejoin="round" stroke-linecap="round" />
<path d="M762.11 573.95 C765 570.39 772.24 571.05 774.21 576.97 L771.58 584.21 L762.11 578.95 Z" fill="#fff" stroke="#000" stroke-width="1.6" stroke-linejoin="round" stroke-linecap="round" />
<circle cx="766.05" cy="583.68" r="5.6" fill="#fff" stroke="#000" stroke-width="3.6"/>
<circle cx="766.32" cy="583.68" r="2" fill="#fff" stroke="#000" stroke-width="1.2"/>
<path d="M763.68 582.24 L768.95 585.26" fill="none" stroke="#000" stroke-width="1.2" stroke-linejoin="round" stroke-linecap="round" />
<circle cx="781.18" cy="578.29" r="5.2" fill="#fff" stroke="#000" stroke-width="3.2"/>
<path d="M519.26 617.05 L540.46 611.52 L541.75 622.03 L519.63 631.8 Z" fill="#fff" stroke="#000" stroke-width="1.5" stroke-linejoin="round" stroke-linecap="round" />
<path d="M531.8 613.73 L534.01 625.16" fill="none" stroke="#000" stroke-width="1.1" stroke-linejoin="round" stroke-linecap="round" />
<path d="M504.15 618.34 L504.15 635.85 C504.52 639.54 518.34 639.54 519.26 635.48 L519.26 618.34 Z" fill="#fff" stroke="#000" stroke-width="1.5" stroke-linejoin="round" stroke-linecap="round" />
<ellipse cx="511.71" cy="618.16" rx="7.5" ry="3.4" fill="#fff" stroke="#000" stroke-width="1.5"/>
<path d="M495.3 622.03 C492.53 625.16 495.3 628.85 500.83 628.48 L511.89 626.64 L511.89 622.58 L500.83 621.11 Z" fill="#000" stroke="#000" stroke-width="1" stroke-linejoin="round" stroke-linecap="round" />
<path d="M498.06 624.42 L508.57 624.06" fill="none" stroke="#fff" stroke-width="0.8" stroke-linejoin="round" stroke-linecap="round" />
<path d="M507.28 626.64 L507.28 636.77" fill="none" stroke="#000" stroke-width="1.2" stroke-linejoin="round" stroke-linecap="round" />
<path d="M507.83 638.62 L508.57 643.23 L511.52 646.54 L514.47 643.23 L515.58 638.62 Z" fill="#111" stroke="#000" stroke-width="1" stroke-linejoin="round" stroke-linecap="round" />
<g transform="translate(499.2 98.7) scale(0.69 1)"><text font-size="18.3" text-anchor="middle" class="lb">1</text><rect x="-5.63" y="-2.17" width="4.47" height="3.57" fill="#fff"/><rect x="1.78" y="-2.17" width="3.25" height="3.57" fill="#fff"/></g>
<line x1="496.5" y1="102.9" x2="472.3" y2="155.7" stroke="#000" stroke-width="1.05" />
<line x1="496.5" y1="102.9" x2="491.4" y2="144" stroke="#000" stroke-width="1.05" />
<line x1="496.5" y1="102.9" x2="556" y2="139.6" stroke="#000" stroke-width="1.05" />
<line x1="496.5" y1="102.9" x2="575" y2="137.8" stroke="#000" stroke-width="1.05" />
<g transform="translate(433.7 329.9) scale(0.69 1)"><text font-size="18.3" text-anchor="middle" class="lb">2</text></g>
<line x1="434.2" y1="314.1" x2="464.7" y2="284.7" stroke="#000" stroke-width="1.05" />
<g transform="translate(236.35 211.3) scale(0.69 1)"><text font-size="18.3" text-anchor="middle" class="lb">3</text></g>
<line x1="239.4" y1="206.4" x2="301.6" y2="227" stroke="#000" stroke-width="1.05" />
<g transform="translate(268.85 462.5) scale(0.69 1)"><text font-size="18.3" text-anchor="middle" class="lb">4</text></g>
<line x1="269.6" y1="463.5" x2="269.6" y2="506.5" stroke="#000" stroke-width="1.05" />
<g transform="translate(205.75 506.1) scale(0.69 1)"><text font-size="18.3" text-anchor="middle" class="lb">5</text></g>
<line x1="207.3" y1="509.8" x2="207.3" y2="552.4" stroke="#000" stroke-width="1.05" />
<g transform="translate(240 672.3) scale(0.69 1)"><text font-size="18.3" text-anchor="middle" class="lb">5</text></g>
<line x1="239.3" y1="612.6" x2="239.3" y2="656.8" stroke="#000" stroke-width="1.05" />
<g transform="translate(125.5 641.1) scale(0.69 1)"><text font-size="18.3" text-anchor="middle" class="lb">6</text></g>
<line x1="130.7" y1="631.4" x2="144.5" y2="587.8" stroke="#000" stroke-width="1.05" />
<line x1="130.7" y1="631.4" x2="177.7" y2="625" stroke="#000" stroke-width="1.05" />
<g transform="translate(425.4 428.8) scale(0.69 1)"><text font-size="18.3" text-anchor="middle" class="lb">7</text></g>
<line x1="432.2" y1="420.5" x2="460.2" y2="376.1" stroke="#000" stroke-width="1.05" />
<line x1="432.2" y1="420.5" x2="466.6" y2="402.1" stroke="#000" stroke-width="1.05" />
<line x1="432.2" y1="420.5" x2="469.5" y2="416.2" stroke="#000" stroke-width="1.05" />
<line x1="432.2" y1="420.5" x2="477.1" y2="442.6" stroke="#000" stroke-width="1.05" />
<g transform="translate(551.5 467.1) scale(0.69 1)"><text font-size="18.3" text-anchor="middle" class="lb">8</text></g>
<line x1="551" y1="451" x2="519.7" y2="364.5" stroke="#000" stroke-width="1.05" />
<line x1="551" y1="451" x2="538.7" y2="390.3" stroke="#000" stroke-width="1.05" />
<line x1="551" y1="451" x2="551.8" y2="401.5" stroke="#000" stroke-width="1.05" />
<line x1="551" y1="451" x2="565.7" y2="427.8" stroke="#000" stroke-width="1.05" />
<g transform="translate(583.4 468.1) scale(0.69 1)"><text font-size="18.3" text-anchor="middle" class="lb">9</text></g>
<line x1="583.5" y1="450.6" x2="546.7" y2="358.6" stroke="#000" stroke-width="1.05" />
<line x1="583.5" y1="450.6" x2="572.5" y2="382.5" stroke="#000" stroke-width="1.05" />
<line x1="583.5" y1="450.6" x2="586.8" y2="393" stroke="#000" stroke-width="1.05" />
<line x1="583.5" y1="450.6" x2="612.6" y2="416.2" stroke="#000" stroke-width="1.05" />
<g transform="translate(449.25 555.7) scale(0.63 1)"><text font-size="18.3" text-anchor="middle" class="lb">10</text><rect x="-10.77" y="-2.17" width="4.48" height="3.57" fill="#fff"/><rect x="-3.26" y="-2.17" width="3.2" height="3.57" fill="#fff"/></g>
<line x1="450.1" y1="557.5" x2="466.7" y2="619.3" stroke="#000" stroke-width="1.05" />
<g transform="translate(741.75 157.1) scale(0.78 1)"><text font-size="18.3" text-anchor="middle" class="lb">11</text><rect x="-10.66" y="-2.17" width="4.47" height="3.57" fill="#fff"/><rect x="-3.37" y="-2.17" width="3.32" height="3.57" fill="#fff"/><rect x="-0.48" y="-2.17" width="4.47" height="3.57" fill="#fff"/><rect x="6.8" y="-2.17" width="3.32" height="3.57" fill="#fff"/></g>
<line x1="732.7" y1="154.6" x2="658.8" y2="221.9" stroke="#000" stroke-width="1.05" />
<g transform="translate(315.5 302.5) scale(0.63 1)"><text font-size="18.3" text-anchor="middle" class="lb">12</text><rect x="-10.77" y="-2.17" width="4.48" height="3.57" fill="#fff"/><rect x="-3.26" y="-2.17" width="3.2" height="3.57" fill="#fff"/></g>
<line x1="314.2" y1="303.4" x2="314.2" y2="345.6" stroke="#000" stroke-width="1.05" />
<g transform="translate(371.65 380.4) scale(0.63 1)"><text font-size="18.3" text-anchor="middle" class="lb">13</text><rect x="-10.77" y="-2.17" width="4.48" height="3.57" fill="#fff"/><rect x="-3.26" y="-2.17" width="3.2" height="3.57" fill="#fff"/></g>
<line x1="369.8" y1="382.2" x2="369.8" y2="425.2" stroke="#000" stroke-width="1.05" />
<g transform="translate(968.9 374.8) scale(0.63 1)"><text font-size="21" text-anchor="middle" class="lb">14</text><rect x="-12.27" y="-2.38" width="5.15" height="3.78" fill="#fff"/><rect x="-3.84" y="-2.38" width="3.78" height="3.78" fill="#fff"/></g>
<line x1="903.5" y1="366.4" x2="962" y2="366.4" stroke="#000" stroke-width="1.05" />
<g transform="translate(787.4 40.8) scale(0.63 1)"><text font-size="18.3" text-anchor="middle" class="lb">15</text><rect x="-10.77" y="-2.17" width="4.48" height="3.57" fill="#fff"/><rect x="-3.26" y="-2.17" width="3.2" height="3.57" fill="#fff"/></g>
<line x1="784.1" y1="41.5" x2="784.1" y2="52.2" stroke="#000" stroke-width="1.05" />
<g transform="translate(775.5 100.7) scale(0.63 1)"><text font-size="18.3" text-anchor="middle" class="lb">16</text><rect x="-10.77" y="-2.17" width="4.48" height="3.57" fill="#fff"/><rect x="-3.26" y="-2.17" width="3.2" height="3.57" fill="#fff"/></g>
<line x1="778.2" y1="86.8" x2="783.4" y2="74.9" stroke="#000" stroke-width="1.05" />
<line x1="778.2" y1="86.8" x2="798.4" y2="80.8" stroke="#000" stroke-width="1.05" />
</svg>
</body></html>
